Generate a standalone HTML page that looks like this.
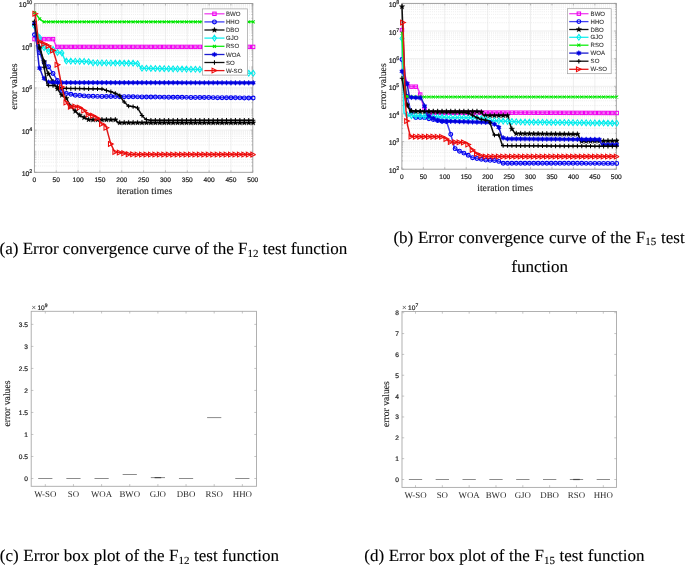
<!DOCTYPE html><html><head><meta charset="utf-8"><style>html,body{margin:0;padding:0;background:#fff;width:685px;height:565px;overflow:hidden}svg{display:block;will-change:transform;text-rendering:geometricPrecision}</style></head><body><svg width="685" height="565" viewBox="0 0 685 565"><defs><clipPath id="ac"><rect x="31.4" y="0.5" width="224.4" height="171.8"/></clipPath><clipPath id="bc"><rect x="398.9" y="0.3999999999999999" width="220.39999999999998" height="168.79999999999998"/></clipPath></defs><clipPath id="a"><rect x="34.4" y="3.5" width="218.4" height="168.8"/></clipPath><g stroke="#d4d4d4" stroke-width="0.6" stroke-dasharray="0.6 1.3"><path d="M34.4 165.95H252.8"/><path d="M34.4 162.23H252.8"/><path d="M34.4 159.6H252.8"/><path d="M34.4 157.55H252.8"/><path d="M34.4 155.88H252.8"/><path d="M34.4 154.47H252.8"/><path d="M34.4 153.24H252.8"/><path d="M34.4 152.17H252.8"/><path d="M34.4 151.2H252.8"/><path d="M34.4 144.85H252.8"/><path d="M34.4 141.13H252.8"/><path d="M34.4 138.5H252.8"/><path d="M34.4 136.45H252.8"/><path d="M34.4 134.78H252.8"/><path d="M34.4 133.37H252.8"/><path d="M34.4 132.14H252.8"/><path d="M34.4 131.07H252.8"/><path d="M34.4 123.75H252.8"/><path d="M34.4 120.03H252.8"/><path d="M34.4 117.4H252.8"/><path d="M34.4 115.35H252.8"/><path d="M34.4 113.68H252.8"/><path d="M34.4 112.27H252.8"/><path d="M34.4 111.04H252.8"/><path d="M34.4 109.97H252.8"/><path d="M34.4 109H252.8"/><path d="M34.4 102.65H252.8"/><path d="M34.4 98.93H252.8"/><path d="M34.4 96.3H252.8"/><path d="M34.4 94.25H252.8"/><path d="M34.4 92.58H252.8"/><path d="M34.4 91.17H252.8"/><path d="M34.4 89.94H252.8"/><path d="M34.4 88.87H252.8"/><path d="M34.4 81.55H252.8"/><path d="M34.4 77.83H252.8"/><path d="M34.4 75.2H252.8"/><path d="M34.4 73.15H252.8"/><path d="M34.4 71.48H252.8"/><path d="M34.4 70.07H252.8"/><path d="M34.4 68.84H252.8"/><path d="M34.4 67.77H252.8"/><path d="M34.4 66.8H252.8"/><path d="M34.4 60.45H252.8"/><path d="M34.4 56.73H252.8"/><path d="M34.4 54.1H252.8"/><path d="M34.4 52.05H252.8"/><path d="M34.4 50.38H252.8"/><path d="M34.4 48.97H252.8"/><path d="M34.4 47.74H252.8"/><path d="M34.4 46.67H252.8"/><path d="M34.4 39.35H252.8"/><path d="M34.4 35.63H252.8"/><path d="M34.4 33H252.8"/><path d="M34.4 30.95H252.8"/><path d="M34.4 29.28H252.8"/><path d="M34.4 27.87H252.8"/><path d="M34.4 26.64H252.8"/><path d="M34.4 25.57H252.8"/><path d="M34.4 24.6H252.8"/><path d="M34.4 18.25H252.8"/><path d="M34.4 14.53H252.8"/><path d="M34.4 11.9H252.8"/><path d="M34.4 9.85H252.8"/><path d="M34.4 8.18H252.8"/><path d="M34.4 6.77H252.8"/><path d="M34.4 5.54H252.8"/><path d="M34.4 4.47H252.8"/></g><g stroke="#e4e4e4" stroke-width="0.6"><path d="M56.24 3.5V172.3"/><path d="M78.08 3.5V172.3"/><path d="M99.92 3.5V172.3"/><path d="M121.76 3.5V172.3"/><path d="M143.6 3.5V172.3"/><path d="M165.44 3.5V172.3"/><path d="M187.28 3.5V172.3"/><path d="M209.12 3.5V172.3"/><path d="M230.96 3.5V172.3"/><path d="M34.4 130.1H252.8"/><path d="M34.4 87.9H252.8"/><path d="M34.4 45.7H252.8"/></g><g stroke="#9a9a9a" stroke-width="0.6"><path d="M34.4 172.3v-2M34.4 3.5v2"/><path d="M56.24 172.3v-2M56.24 3.5v2"/><path d="M78.08 172.3v-2M78.08 3.5v2"/><path d="M99.92 172.3v-2M99.92 3.5v2"/><path d="M121.76 172.3v-2M121.76 3.5v2"/><path d="M143.6 172.3v-2M143.6 3.5v2"/><path d="M165.44 172.3v-2M165.44 3.5v2"/><path d="M187.28 172.3v-2M187.28 3.5v2"/><path d="M209.12 172.3v-2M209.12 3.5v2"/><path d="M230.96 172.3v-2M230.96 3.5v2"/><path d="M252.8 172.3v-2M252.8 3.5v2"/><path d="M34.4 172.3h2.2M252.8 172.3h-2.2"/><path d="M34.4 165.95h1.2M252.8 165.95h-1.2"/><path d="M34.4 162.23h1.2M252.8 162.23h-1.2"/><path d="M34.4 159.6h1.2M252.8 159.6h-1.2"/><path d="M34.4 157.55h1.2M252.8 157.55h-1.2"/><path d="M34.4 155.88h1.2M252.8 155.88h-1.2"/><path d="M34.4 154.47h1.2M252.8 154.47h-1.2"/><path d="M34.4 153.24h1.2M252.8 153.24h-1.2"/><path d="M34.4 152.17h1.2M252.8 152.17h-1.2"/><path d="M34.4 151.2h1.2M252.8 151.2h-1.2"/><path d="M34.4 144.85h1.2M252.8 144.85h-1.2"/><path d="M34.4 141.13h1.2M252.8 141.13h-1.2"/><path d="M34.4 138.5h1.2M252.8 138.5h-1.2"/><path d="M34.4 136.45h1.2M252.8 136.45h-1.2"/><path d="M34.4 134.78h1.2M252.8 134.78h-1.2"/><path d="M34.4 133.37h1.2M252.8 133.37h-1.2"/><path d="M34.4 132.14h1.2M252.8 132.14h-1.2"/><path d="M34.4 131.07h1.2M252.8 131.07h-1.2"/><path d="M34.4 130.1h2.2M252.8 130.1h-2.2"/><path d="M34.4 123.75h1.2M252.8 123.75h-1.2"/><path d="M34.4 120.03h1.2M252.8 120.03h-1.2"/><path d="M34.4 117.4h1.2M252.8 117.4h-1.2"/><path d="M34.4 115.35h1.2M252.8 115.35h-1.2"/><path d="M34.4 113.68h1.2M252.8 113.68h-1.2"/><path d="M34.4 112.27h1.2M252.8 112.27h-1.2"/><path d="M34.4 111.04h1.2M252.8 111.04h-1.2"/><path d="M34.4 109.97h1.2M252.8 109.97h-1.2"/><path d="M34.4 109h1.2M252.8 109h-1.2"/><path d="M34.4 102.65h1.2M252.8 102.65h-1.2"/><path d="M34.4 98.93h1.2M252.8 98.93h-1.2"/><path d="M34.4 96.3h1.2M252.8 96.3h-1.2"/><path d="M34.4 94.25h1.2M252.8 94.25h-1.2"/><path d="M34.4 92.58h1.2M252.8 92.58h-1.2"/><path d="M34.4 91.17h1.2M252.8 91.17h-1.2"/><path d="M34.4 89.94h1.2M252.8 89.94h-1.2"/><path d="M34.4 88.87h1.2M252.8 88.87h-1.2"/><path d="M34.4 87.9h2.2M252.8 87.9h-2.2"/><path d="M34.4 81.55h1.2M252.8 81.55h-1.2"/><path d="M34.4 77.83h1.2M252.8 77.83h-1.2"/><path d="M34.4 75.2h1.2M252.8 75.2h-1.2"/><path d="M34.4 73.15h1.2M252.8 73.15h-1.2"/><path d="M34.4 71.48h1.2M252.8 71.48h-1.2"/><path d="M34.4 70.07h1.2M252.8 70.07h-1.2"/><path d="M34.4 68.84h1.2M252.8 68.84h-1.2"/><path d="M34.4 67.77h1.2M252.8 67.77h-1.2"/><path d="M34.4 66.8h1.2M252.8 66.8h-1.2"/><path d="M34.4 60.45h1.2M252.8 60.45h-1.2"/><path d="M34.4 56.73h1.2M252.8 56.73h-1.2"/><path d="M34.4 54.1h1.2M252.8 54.1h-1.2"/><path d="M34.4 52.05h1.2M252.8 52.05h-1.2"/><path d="M34.4 50.38h1.2M252.8 50.38h-1.2"/><path d="M34.4 48.97h1.2M252.8 48.97h-1.2"/><path d="M34.4 47.74h1.2M252.8 47.74h-1.2"/><path d="M34.4 46.67h1.2M252.8 46.67h-1.2"/><path d="M34.4 45.7h2.2M252.8 45.7h-2.2"/><path d="M34.4 39.35h1.2M252.8 39.35h-1.2"/><path d="M34.4 35.63h1.2M252.8 35.63h-1.2"/><path d="M34.4 33h1.2M252.8 33h-1.2"/><path d="M34.4 30.95h1.2M252.8 30.95h-1.2"/><path d="M34.4 29.28h1.2M252.8 29.28h-1.2"/><path d="M34.4 27.87h1.2M252.8 27.87h-1.2"/><path d="M34.4 26.64h1.2M252.8 26.64h-1.2"/><path d="M34.4 25.57h1.2M252.8 25.57h-1.2"/><path d="M34.4 24.6h1.2M252.8 24.6h-1.2"/><path d="M34.4 18.25h1.2M252.8 18.25h-1.2"/><path d="M34.4 14.53h1.2M252.8 14.53h-1.2"/><path d="M34.4 11.9h1.2M252.8 11.9h-1.2"/><path d="M34.4 9.85h1.2M252.8 9.85h-1.2"/><path d="M34.4 8.18h1.2M252.8 8.18h-1.2"/><path d="M34.4 6.77h1.2M252.8 6.77h-1.2"/><path d="M34.4 5.54h1.2M252.8 5.54h-1.2"/><path d="M34.4 4.47h1.2M252.8 4.47h-1.2"/><path d="M34.4 3.5h2.2M252.8 3.5h-2.2"/></g><rect x="34.4" y="3.5" width="218.4" height="168.8" fill="none" stroke="#9a9a9a" stroke-width="0.9"/><g clip-path="url(#ac)"><path d="M34.5 39.1L53.2 39.1L56.5 46.9L252.8 46.9" fill="none" stroke="#f040f0" stroke-width="1.5" stroke-linejoin="round"/><rect x="32.8" y="37.4" width="3.4" height="3.4" fill="none" stroke="#f000f0" stroke-width="1.05"/><rect x="37.99" y="37.4" width="3.4" height="3.4" fill="none" stroke="#f000f0" stroke-width="1.05"/><rect x="42.43" y="37.4" width="3.4" height="3.4" fill="none" stroke="#f000f0" stroke-width="1.05"/><rect x="46.88" y="37.4" width="3.4" height="3.4" fill="none" stroke="#f000f0" stroke-width="1.05"/><rect x="51.33" y="37.4" width="3.4" height="3.4" fill="none" stroke="#f000f0" stroke-width="1.05"/><rect x="55.78" y="45.2" width="3.4" height="3.4" fill="none" stroke="#f000f0" stroke-width="1.05"/><rect x="60.23" y="45.2" width="3.4" height="3.4" fill="none" stroke="#f000f0" stroke-width="1.05"/><rect x="64.67" y="45.2" width="3.4" height="3.4" fill="none" stroke="#f000f0" stroke-width="1.05"/><rect x="69.12" y="45.2" width="3.4" height="3.4" fill="none" stroke="#f000f0" stroke-width="1.05"/><rect x="73.57" y="45.2" width="3.4" height="3.4" fill="none" stroke="#f000f0" stroke-width="1.05"/><rect x="78.02" y="45.2" width="3.4" height="3.4" fill="none" stroke="#f000f0" stroke-width="1.05"/><rect x="82.47" y="45.2" width="3.4" height="3.4" fill="none" stroke="#f000f0" stroke-width="1.05"/><rect x="86.92" y="45.2" width="3.4" height="3.4" fill="none" stroke="#f000f0" stroke-width="1.05"/><rect x="91.36" y="45.2" width="3.4" height="3.4" fill="none" stroke="#f000f0" stroke-width="1.05"/><rect x="95.81" y="45.2" width="3.4" height="3.4" fill="none" stroke="#f000f0" stroke-width="1.05"/><rect x="100.26" y="45.2" width="3.4" height="3.4" fill="none" stroke="#f000f0" stroke-width="1.05"/><rect x="104.71" y="45.2" width="3.4" height="3.4" fill="none" stroke="#f000f0" stroke-width="1.05"/><rect x="109.16" y="45.2" width="3.4" height="3.4" fill="none" stroke="#f000f0" stroke-width="1.05"/><rect x="113.6" y="45.2" width="3.4" height="3.4" fill="none" stroke="#f000f0" stroke-width="1.05"/><rect x="118.05" y="45.2" width="3.4" height="3.4" fill="none" stroke="#f000f0" stroke-width="1.05"/><rect x="122.5" y="45.2" width="3.4" height="3.4" fill="none" stroke="#f000f0" stroke-width="1.05"/><rect x="126.95" y="45.2" width="3.4" height="3.4" fill="none" stroke="#f000f0" stroke-width="1.05"/><rect x="131.4" y="45.2" width="3.4" height="3.4" fill="none" stroke="#f000f0" stroke-width="1.05"/><rect x="135.85" y="45.2" width="3.4" height="3.4" fill="none" stroke="#f000f0" stroke-width="1.05"/><rect x="140.29" y="45.2" width="3.4" height="3.4" fill="none" stroke="#f000f0" stroke-width="1.05"/><rect x="144.74" y="45.2" width="3.4" height="3.4" fill="none" stroke="#f000f0" stroke-width="1.05"/><rect x="149.19" y="45.2" width="3.4" height="3.4" fill="none" stroke="#f000f0" stroke-width="1.05"/><rect x="153.64" y="45.2" width="3.4" height="3.4" fill="none" stroke="#f000f0" stroke-width="1.05"/><rect x="158.09" y="45.2" width="3.4" height="3.4" fill="none" stroke="#f000f0" stroke-width="1.05"/><rect x="162.54" y="45.2" width="3.4" height="3.4" fill="none" stroke="#f000f0" stroke-width="1.05"/><rect x="166.98" y="45.2" width="3.4" height="3.4" fill="none" stroke="#f000f0" stroke-width="1.05"/><rect x="171.43" y="45.2" width="3.4" height="3.4" fill="none" stroke="#f000f0" stroke-width="1.05"/><rect x="175.88" y="45.2" width="3.4" height="3.4" fill="none" stroke="#f000f0" stroke-width="1.05"/><rect x="180.33" y="45.2" width="3.4" height="3.4" fill="none" stroke="#f000f0" stroke-width="1.05"/><rect x="184.78" y="45.2" width="3.4" height="3.4" fill="none" stroke="#f000f0" stroke-width="1.05"/><rect x="189.22" y="45.2" width="3.4" height="3.4" fill="none" stroke="#f000f0" stroke-width="1.05"/><rect x="193.67" y="45.2" width="3.4" height="3.4" fill="none" stroke="#f000f0" stroke-width="1.05"/><rect x="198.12" y="45.2" width="3.4" height="3.4" fill="none" stroke="#f000f0" stroke-width="1.05"/><rect x="202.57" y="45.2" width="3.4" height="3.4" fill="none" stroke="#f000f0" stroke-width="1.05"/><rect x="207.02" y="45.2" width="3.4" height="3.4" fill="none" stroke="#f000f0" stroke-width="1.05"/><rect x="211.47" y="45.2" width="3.4" height="3.4" fill="none" stroke="#f000f0" stroke-width="1.05"/><rect x="215.91" y="45.2" width="3.4" height="3.4" fill="none" stroke="#f000f0" stroke-width="1.05"/><rect x="220.36" y="45.2" width="3.4" height="3.4" fill="none" stroke="#f000f0" stroke-width="1.05"/><rect x="224.81" y="45.2" width="3.4" height="3.4" fill="none" stroke="#f000f0" stroke-width="1.05"/><rect x="229.26" y="45.2" width="3.4" height="3.4" fill="none" stroke="#f000f0" stroke-width="1.05"/><rect x="233.71" y="45.2" width="3.4" height="3.4" fill="none" stroke="#f000f0" stroke-width="1.05"/><rect x="238.16" y="45.2" width="3.4" height="3.4" fill="none" stroke="#f000f0" stroke-width="1.05"/><rect x="242.6" y="45.2" width="3.4" height="3.4" fill="none" stroke="#f000f0" stroke-width="1.05"/><rect x="247.05" y="45.2" width="3.4" height="3.4" fill="none" stroke="#f000f0" stroke-width="1.05"/><rect x="251.5" y="45.2" width="3.4" height="3.4" fill="none" stroke="#f000f0" stroke-width="1.05"/></g><g clip-path="url(#ac)"><path d="M34.5 34.7L38.8 50L42.5 61L48.4 66.5L53.3 73.8L57.5 80.5L62.1 91.5L66 93.5L71 94.3L76 95.3L90 96.3L150 97L252.8 98" fill="none" stroke="#4040f4" stroke-width="1.5" stroke-linejoin="round"/><circle cx="34.5" cy="34.7" r="1.9" fill="none" stroke="#0000f0" stroke-width="1.15"/><circle cx="39.69" cy="52.63" r="1.9" fill="none" stroke="#0000f0" stroke-width="1.15"/><circle cx="44.13" cy="62.52" r="1.9" fill="none" stroke="#0000f0" stroke-width="1.15"/><circle cx="48.58" cy="66.77" r="1.9" fill="none" stroke="#0000f0" stroke-width="1.15"/><circle cx="53.03" cy="73.4" r="1.9" fill="none" stroke="#0000f0" stroke-width="1.15"/><circle cx="57.48" cy="80.46" r="1.9" fill="none" stroke="#0000f0" stroke-width="1.15"/><circle cx="61.93" cy="91.08" r="1.9" fill="none" stroke="#0000f0" stroke-width="1.15"/><circle cx="66.37" cy="93.56" r="1.9" fill="none" stroke="#0000f0" stroke-width="1.15"/><circle cx="70.82" cy="94.27" r="1.9" fill="none" stroke="#0000f0" stroke-width="1.15"/><circle cx="75.27" cy="95.15" r="1.9" fill="none" stroke="#0000f0" stroke-width="1.15"/><circle cx="79.72" cy="95.57" r="1.9" fill="none" stroke="#0000f0" stroke-width="1.15"/><circle cx="84.17" cy="95.88" r="1.9" fill="none" stroke="#0000f0" stroke-width="1.15"/><circle cx="88.62" cy="96.2" r="1.9" fill="none" stroke="#0000f0" stroke-width="1.15"/><circle cx="93.06" cy="96.34" r="1.9" fill="none" stroke="#0000f0" stroke-width="1.15"/><circle cx="97.51" cy="96.39" r="1.9" fill="none" stroke="#0000f0" stroke-width="1.15"/><circle cx="101.96" cy="96.44" r="1.9" fill="none" stroke="#0000f0" stroke-width="1.15"/><circle cx="106.41" cy="96.49" r="1.9" fill="none" stroke="#0000f0" stroke-width="1.15"/><circle cx="110.86" cy="96.54" r="1.9" fill="none" stroke="#0000f0" stroke-width="1.15"/><circle cx="115.3" cy="96.6" r="1.9" fill="none" stroke="#0000f0" stroke-width="1.15"/><circle cx="119.75" cy="96.65" r="1.9" fill="none" stroke="#0000f0" stroke-width="1.15"/><circle cx="124.2" cy="96.7" r="1.9" fill="none" stroke="#0000f0" stroke-width="1.15"/><circle cx="128.65" cy="96.75" r="1.9" fill="none" stroke="#0000f0" stroke-width="1.15"/><circle cx="133.1" cy="96.8" r="1.9" fill="none" stroke="#0000f0" stroke-width="1.15"/><circle cx="137.55" cy="96.85" r="1.9" fill="none" stroke="#0000f0" stroke-width="1.15"/><circle cx="141.99" cy="96.91" r="1.9" fill="none" stroke="#0000f0" stroke-width="1.15"/><circle cx="146.44" cy="96.96" r="1.9" fill="none" stroke="#0000f0" stroke-width="1.15"/><circle cx="150.89" cy="97.01" r="1.9" fill="none" stroke="#0000f0" stroke-width="1.15"/><circle cx="155.34" cy="97.05" r="1.9" fill="none" stroke="#0000f0" stroke-width="1.15"/><circle cx="159.79" cy="97.1" r="1.9" fill="none" stroke="#0000f0" stroke-width="1.15"/><circle cx="164.24" cy="97.14" r="1.9" fill="none" stroke="#0000f0" stroke-width="1.15"/><circle cx="168.68" cy="97.18" r="1.9" fill="none" stroke="#0000f0" stroke-width="1.15"/><circle cx="173.13" cy="97.23" r="1.9" fill="none" stroke="#0000f0" stroke-width="1.15"/><circle cx="177.58" cy="97.27" r="1.9" fill="none" stroke="#0000f0" stroke-width="1.15"/><circle cx="182.03" cy="97.31" r="1.9" fill="none" stroke="#0000f0" stroke-width="1.15"/><circle cx="186.48" cy="97.35" r="1.9" fill="none" stroke="#0000f0" stroke-width="1.15"/><circle cx="190.92" cy="97.4" r="1.9" fill="none" stroke="#0000f0" stroke-width="1.15"/><circle cx="195.37" cy="97.44" r="1.9" fill="none" stroke="#0000f0" stroke-width="1.15"/><circle cx="199.82" cy="97.48" r="1.9" fill="none" stroke="#0000f0" stroke-width="1.15"/><circle cx="204.27" cy="97.53" r="1.9" fill="none" stroke="#0000f0" stroke-width="1.15"/><circle cx="208.72" cy="97.57" r="1.9" fill="none" stroke="#0000f0" stroke-width="1.15"/><circle cx="213.17" cy="97.61" r="1.9" fill="none" stroke="#0000f0" stroke-width="1.15"/><circle cx="217.61" cy="97.66" r="1.9" fill="none" stroke="#0000f0" stroke-width="1.15"/><circle cx="222.06" cy="97.7" r="1.9" fill="none" stroke="#0000f0" stroke-width="1.15"/><circle cx="226.51" cy="97.74" r="1.9" fill="none" stroke="#0000f0" stroke-width="1.15"/><circle cx="230.96" cy="97.79" r="1.9" fill="none" stroke="#0000f0" stroke-width="1.15"/><circle cx="235.41" cy="97.83" r="1.9" fill="none" stroke="#0000f0" stroke-width="1.15"/><circle cx="239.86" cy="97.87" r="1.9" fill="none" stroke="#0000f0" stroke-width="1.15"/><circle cx="244.3" cy="97.92" r="1.9" fill="none" stroke="#0000f0" stroke-width="1.15"/><circle cx="248.75" cy="97.96" r="1.9" fill="none" stroke="#0000f0" stroke-width="1.15"/><circle cx="253.2" cy="98" r="1.9" fill="none" stroke="#0000f0" stroke-width="1.15"/></g><g clip-path="url(#ac)"><path d="M34.5 22L38.6 44L42.6 57L47.5 72L52 80L56.5 87.2L61.1 94.7L65.9 97.5L70.7 106.3L75.5 111.4L79.9 115.4L84.2 117.5L89 119.8L116.1 119.8L117.5 122.7L252.8 122.8" fill="none" stroke="#111111" stroke-width="1.5" stroke-linejoin="round"/><path d="M34.5 19.2L35.19 21.05L37.16 21.13L35.62 22.36L36.15 24.27L34.5 23.18L32.85 24.27L33.38 22.36L31.84 21.13L33.81 21.05Z" fill="#000000" stroke="#000000" stroke-width="0.4"/><path d="M39.69 44.73L40.38 46.57L42.35 46.66L40.8 47.89L41.33 49.79L39.69 48.7L38.04 49.79L38.57 47.89L37.02 46.66L38.99 46.57Z" fill="#000000" stroke="#000000" stroke-width="0.4"/><path d="M44.13 58.89L44.82 60.74L46.8 60.83L45.25 62.06L45.78 63.96L44.13 62.87L42.49 63.96L43.01 62.06L41.47 60.83L43.44 60.74Z" fill="#000000" stroke="#000000" stroke-width="0.4"/><path d="M48.58 71.12L49.27 72.97L51.24 73.06L49.7 74.29L50.23 76.19L48.58 75.1L46.94 76.19L47.46 74.29L45.92 73.06L47.89 72.97Z" fill="#000000" stroke="#000000" stroke-width="0.4"/><path d="M53.03 78.85L53.72 80.7L55.69 80.78L54.15 82.01L54.68 83.91L53.03 82.82L51.38 83.91L51.91 82.01L50.37 80.78L52.34 80.7Z" fill="#000000" stroke="#000000" stroke-width="0.4"/><path d="M57.48 85.99L58.17 87.84L60.14 87.93L58.6 89.16L59.12 91.06L57.48 89.97L55.83 91.06L56.36 89.16L54.81 87.93L56.79 87.84Z" fill="#000000" stroke="#000000" stroke-width="0.4"/><path d="M61.93 92.38L62.62 94.23L64.59 94.32L63.04 95.55L63.57 97.45L61.93 96.36L60.28 97.45L60.81 95.55L59.26 94.32L61.23 94.23Z" fill="#000000" stroke="#000000" stroke-width="0.4"/><path d="M66.37 95.57L67.07 97.42L69.04 97.5L67.49 98.73L68.02 100.63L66.37 99.55L64.73 100.63L65.26 98.73L63.71 97.5L65.68 97.42Z" fill="#000000" stroke="#000000" stroke-width="0.4"/><path d="M70.82 103.63L71.51 105.48L73.49 105.57L71.94 106.79L72.47 108.7L70.82 107.61L69.18 108.7L69.7 106.79L68.16 105.57L70.13 105.48Z" fill="#000000" stroke="#000000" stroke-width="0.4"/><path d="M75.27 108.36L75.96 110.21L77.93 110.29L76.39 111.52L76.92 113.42L75.27 112.33L73.63 113.42L74.15 111.52L72.61 110.29L74.58 110.21Z" fill="#000000" stroke="#000000" stroke-width="0.4"/><path d="M79.72 112.44L80.41 114.28L82.38 114.37L80.84 115.6L81.36 117.5L79.72 116.41L78.07 117.5L78.6 115.6L77.06 114.37L79.03 114.28Z" fill="#000000" stroke="#000000" stroke-width="0.4"/><path d="M84.17 114.68L84.86 116.53L86.83 116.62L85.29 117.85L85.81 119.75L84.17 118.66L82.52 119.75L83.05 117.85L81.5 116.62L83.48 116.53Z" fill="#000000" stroke="#000000" stroke-width="0.4"/><path d="M88.62 116.82L89.31 118.66L91.28 118.75L89.73 119.98L90.26 121.88L88.62 120.79L86.97 121.88L87.5 119.98L85.95 118.75L87.92 118.66Z" fill="#000000" stroke="#000000" stroke-width="0.4"/><path d="M93.06 117L93.76 118.85L95.73 118.93L94.18 120.16L94.71 122.07L93.06 120.98L91.42 122.07L91.95 120.16L90.4 118.93L92.37 118.85Z" fill="#000000" stroke="#000000" stroke-width="0.4"/><path d="M97.51 117L98.2 118.85L100.17 118.93L98.63 120.16L99.16 122.07L97.51 120.98L95.87 122.07L96.39 120.16L94.85 118.93L96.82 118.85Z" fill="#000000" stroke="#000000" stroke-width="0.4"/><path d="M101.96 117L102.65 118.85L104.62 118.93L103.08 120.16L103.61 122.07L101.96 120.98L100.31 122.07L100.84 120.16L99.3 118.93L101.27 118.85Z" fill="#000000" stroke="#000000" stroke-width="0.4"/><path d="M106.41 117L107.1 118.85L109.07 118.93L107.53 120.16L108.05 122.07L106.41 120.98L104.76 122.07L105.29 120.16L103.75 118.93L105.72 118.85Z" fill="#000000" stroke="#000000" stroke-width="0.4"/><path d="M110.86 117L111.55 118.85L113.52 118.93L111.98 120.16L112.5 122.07L110.86 120.98L109.21 122.07L109.74 120.16L108.19 118.93L110.17 118.85Z" fill="#000000" stroke="#000000" stroke-width="0.4"/><path d="M115.3 117L116 118.85L117.97 118.93L116.42 120.16L116.95 122.07L115.3 120.98L113.66 122.07L114.19 120.16L112.64 118.93L114.61 118.85Z" fill="#000000" stroke="#000000" stroke-width="0.4"/><path d="M119.75 119.9L120.44 121.75L122.42 121.84L120.87 123.07L121.4 124.97L119.75 123.88L118.11 124.97L118.63 123.07L117.09 121.84L119.06 121.75Z" fill="#000000" stroke="#000000" stroke-width="0.4"/><path d="M124.2 119.9L124.89 121.75L126.86 121.84L125.32 123.07L125.85 124.97L124.2 123.88L122.56 124.97L123.08 123.07L121.54 121.84L123.51 121.75Z" fill="#000000" stroke="#000000" stroke-width="0.4"/><path d="M128.65 119.91L129.34 121.76L131.31 121.84L129.77 123.07L130.3 124.97L128.65 123.88L127 124.97L127.53 123.07L125.99 121.84L127.96 121.76Z" fill="#000000" stroke="#000000" stroke-width="0.4"/><path d="M133.1 119.91L133.79 121.76L135.76 121.85L134.22 123.07L134.74 124.98L133.1 123.89L131.45 124.98L131.98 123.07L130.43 121.85L132.41 121.76Z" fill="#000000" stroke="#000000" stroke-width="0.4"/><path d="M137.55 119.91L138.24 121.76L140.21 121.85L138.66 123.08L139.19 124.98L137.55 123.89L135.9 124.98L136.43 123.08L134.88 121.85L136.85 121.76Z" fill="#000000" stroke="#000000" stroke-width="0.4"/><path d="M141.99 119.92L142.69 121.77L144.66 121.85L143.11 123.08L143.64 124.98L141.99 123.89L140.35 124.98L140.88 123.08L139.33 121.85L141.3 121.77Z" fill="#000000" stroke="#000000" stroke-width="0.4"/><path d="M146.44 119.92L147.13 121.77L149.11 121.86L147.56 123.08L148.09 124.99L146.44 123.9L144.8 124.99L145.32 123.08L143.78 121.86L145.75 121.77Z" fill="#000000" stroke="#000000" stroke-width="0.4"/><path d="M150.89 119.92L151.58 121.77L153.55 121.86L152.01 123.09L152.54 124.99L150.89 123.9L149.24 124.99L149.77 123.09L148.23 121.86L150.2 121.77Z" fill="#000000" stroke="#000000" stroke-width="0.4"/><path d="M155.34 119.93L156.03 121.78L158 121.86L156.46 123.09L156.98 124.99L155.34 123.9L153.69 124.99L154.22 123.09L152.68 121.86L154.65 121.78Z" fill="#000000" stroke="#000000" stroke-width="0.4"/><path d="M159.79 119.93L160.48 121.78L162.45 121.87L160.91 123.09L161.43 125L159.79 123.91L158.14 125L158.67 123.09L157.12 121.87L159.1 121.78Z" fill="#000000" stroke="#000000" stroke-width="0.4"/><path d="M164.24 119.93L164.93 121.78L166.9 121.87L165.35 123.1L165.88 125L164.24 123.91L162.59 125L163.12 123.1L161.57 121.87L163.54 121.78Z" fill="#000000" stroke="#000000" stroke-width="0.4"/><path d="M168.68 119.94L169.37 121.79L171.35 121.87L169.8 123.1L170.33 125L168.68 123.91L167.04 125L167.57 123.1L166.02 121.87L167.99 121.79Z" fill="#000000" stroke="#000000" stroke-width="0.4"/><path d="M173.13 119.94L173.82 121.79L175.79 121.88L174.25 123.1L174.78 125.01L173.13 123.92L171.49 125.01L172.01 123.1L170.47 121.88L172.44 121.79Z" fill="#000000" stroke="#000000" stroke-width="0.4"/><path d="M177.58 119.94L178.27 121.79L180.24 121.88L178.7 123.11L179.23 125.01L177.58 123.92L175.93 125.01L176.46 123.11L174.92 121.88L176.89 121.79Z" fill="#000000" stroke="#000000" stroke-width="0.4"/><path d="M182.03 119.95L182.72 121.8L184.69 121.88L183.15 123.11L183.67 125.01L182.03 123.92L180.38 125.01L180.91 123.11L179.37 121.88L181.34 121.8Z" fill="#000000" stroke="#000000" stroke-width="0.4"/><path d="M186.48 119.95L187.17 121.8L189.14 121.89L187.6 123.11L188.12 125.02L186.48 123.93L184.83 125.02L185.36 123.11L183.81 121.89L185.79 121.8Z" fill="#000000" stroke="#000000" stroke-width="0.4"/><path d="M190.92 119.95L191.62 121.8L193.59 121.89L192.04 123.12L192.57 125.02L190.92 123.93L189.28 125.02L189.81 123.12L188.26 121.89L190.23 121.8Z" fill="#000000" stroke="#000000" stroke-width="0.4"/><path d="M195.37 119.96L196.06 121.81L198.04 121.89L196.49 123.12L197.02 125.02L195.37 123.93L193.73 125.02L194.25 123.12L192.71 121.89L194.68 121.81Z" fill="#000000" stroke="#000000" stroke-width="0.4"/><path d="M199.82 119.96L200.51 121.81L202.48 121.9L200.94 123.12L201.47 125.03L199.82 123.94L198.18 125.03L198.7 123.12L197.16 121.9L199.13 121.81Z" fill="#000000" stroke="#000000" stroke-width="0.4"/><path d="M204.27 119.96L204.96 121.81L206.93 121.9L205.39 123.13L205.92 125.03L204.27 123.94L202.62 125.03L203.15 123.13L201.61 121.9L203.58 121.81Z" fill="#000000" stroke="#000000" stroke-width="0.4"/><path d="M208.72 119.97L209.41 121.82L211.38 121.9L209.84 123.13L210.36 125.03L208.72 123.94L207.07 125.03L207.6 123.13L206.05 121.9L208.03 121.82Z" fill="#000000" stroke="#000000" stroke-width="0.4"/><path d="M213.17 119.97L213.86 121.82L215.83 121.91L214.28 123.13L214.81 125.04L213.17 123.95L211.52 125.04L212.05 123.13L210.5 121.91L212.47 121.82Z" fill="#000000" stroke="#000000" stroke-width="0.4"/><path d="M217.61 119.97L218.31 121.82L220.28 121.91L218.73 123.14L219.26 125.04L217.61 123.95L215.97 125.04L216.5 123.14L214.95 121.91L216.92 121.82Z" fill="#000000" stroke="#000000" stroke-width="0.4"/><path d="M222.06 119.98L222.75 121.83L224.73 121.91L223.18 123.14L223.71 125.04L222.06 123.95L220.42 125.04L220.94 123.14L219.4 121.91L221.37 121.83Z" fill="#000000" stroke="#000000" stroke-width="0.4"/><path d="M226.51 119.98L227.2 121.83L229.17 121.92L227.63 123.14L228.16 125.05L226.51 123.96L224.86 125.05L225.39 123.14L223.85 121.92L225.82 121.83Z" fill="#000000" stroke="#000000" stroke-width="0.4"/><path d="M230.96 119.98L231.65 121.83L233.62 121.92L232.08 123.15L232.6 125.05L230.96 123.96L229.31 125.05L229.84 123.15L228.3 121.92L230.27 121.83Z" fill="#000000" stroke="#000000" stroke-width="0.4"/><path d="M235.41 119.99L236.1 121.84L238.07 121.92L236.53 123.15L237.05 125.05L235.41 123.96L233.76 125.05L234.29 123.15L232.74 121.92L234.72 121.84Z" fill="#000000" stroke="#000000" stroke-width="0.4"/><path d="M239.86 119.99L240.55 121.84L242.52 121.93L240.97 123.15L241.5 125.06L239.86 123.97L238.21 125.06L238.74 123.15L237.19 121.93L239.16 121.84Z" fill="#000000" stroke="#000000" stroke-width="0.4"/><path d="M244.3 119.99L244.99 121.84L246.97 121.93L245.42 123.16L245.95 125.06L244.3 123.97L242.66 125.06L243.19 123.16L241.64 121.93L243.61 121.84Z" fill="#000000" stroke="#000000" stroke-width="0.4"/><path d="M248.75 120L249.44 121.85L251.41 121.93L249.87 123.16L250.4 125.06L248.75 123.97L247.11 125.06L247.63 123.16L246.09 121.93L248.06 121.85Z" fill="#000000" stroke="#000000" stroke-width="0.4"/><path d="M253.2 120L253.89 121.85L255.86 121.93L254.32 123.16L254.85 125.07L253.2 123.98L251.55 125.07L252.08 123.16L250.54 121.93L252.51 121.85Z" fill="#000000" stroke="#000000" stroke-width="0.4"/></g><g clip-path="url(#ac)"><path d="M34.5 26L40.2 38.8L43.9 47.5L48.5 51.4L53 49.5L57.6 52.6L61.8 52.6L65.3 61L88 61.5L91 62.8L137 63.2L141.7 68.2L200 69.4L243.5 69.6L248 73.3L252.8 73.3" fill="none" stroke="#18f0f0" stroke-width="1.5" stroke-linejoin="round"/><path d="M34.5 23.1L36.5 26L34.5 28.9L32.5 26Z" fill="none" stroke="#00ecec" stroke-width="1.05"/><path d="M39.69 34.74L41.69 37.64L39.69 40.54L37.69 37.64Z" fill="none" stroke="#00ecec" stroke-width="1.05"/><path d="M44.13 44.8L46.13 47.7L44.13 50.6L42.13 47.7Z" fill="none" stroke="#00ecec" stroke-width="1.05"/><path d="M48.58 48.47L50.58 51.37L48.58 54.27L46.58 51.37Z" fill="none" stroke="#00ecec" stroke-width="1.05"/><path d="M53.03 46.62L55.03 49.52L53.03 52.42L51.03 49.52Z" fill="none" stroke="#00ecec" stroke-width="1.05"/><path d="M57.48 49.62L59.48 52.52L57.48 55.42L55.48 52.52Z" fill="none" stroke="#00ecec" stroke-width="1.05"/><path d="M61.93 50L63.93 52.9L61.93 55.8L59.93 52.9Z" fill="none" stroke="#00ecec" stroke-width="1.05"/><path d="M66.37 58.12L68.37 61.02L66.37 63.92L64.37 61.02Z" fill="none" stroke="#00ecec" stroke-width="1.05"/><path d="M70.82 58.22L72.82 61.12L70.82 64.02L68.82 61.12Z" fill="none" stroke="#00ecec" stroke-width="1.05"/><path d="M75.27 58.32L77.27 61.22L75.27 64.12L73.27 61.22Z" fill="none" stroke="#00ecec" stroke-width="1.05"/><path d="M79.72 58.42L81.72 61.32L79.72 64.22L77.72 61.32Z" fill="none" stroke="#00ecec" stroke-width="1.05"/><path d="M84.17 58.52L86.17 61.42L84.17 64.32L82.17 61.42Z" fill="none" stroke="#00ecec" stroke-width="1.05"/><path d="M88.62 58.87L90.62 61.77L88.62 64.67L86.62 61.77Z" fill="none" stroke="#00ecec" stroke-width="1.05"/><path d="M93.06 59.92L95.06 62.82L93.06 65.72L91.06 62.82Z" fill="none" stroke="#00ecec" stroke-width="1.05"/><path d="M97.51 59.96L99.51 62.86L97.51 65.76L95.51 62.86Z" fill="none" stroke="#00ecec" stroke-width="1.05"/><path d="M101.96 60L103.96 62.9L101.96 65.8L99.96 62.9Z" fill="none" stroke="#00ecec" stroke-width="1.05"/><path d="M106.41 60.03L108.41 62.93L106.41 65.83L104.41 62.93Z" fill="none" stroke="#00ecec" stroke-width="1.05"/><path d="M110.86 60.07L112.86 62.97L110.86 65.87L108.86 62.97Z" fill="none" stroke="#00ecec" stroke-width="1.05"/><path d="M115.3 60.11L117.3 63.01L115.3 65.91L113.3 63.01Z" fill="none" stroke="#00ecec" stroke-width="1.05"/><path d="M119.75 60.15L121.75 63.05L119.75 65.95L117.75 63.05Z" fill="none" stroke="#00ecec" stroke-width="1.05"/><path d="M124.2 60.19L126.2 63.09L124.2 65.99L122.2 63.09Z" fill="none" stroke="#00ecec" stroke-width="1.05"/><path d="M128.65 60.23L130.65 63.13L128.65 66.03L126.65 63.13Z" fill="none" stroke="#00ecec" stroke-width="1.05"/><path d="M133.1 60.27L135.1 63.17L133.1 66.07L131.1 63.17Z" fill="none" stroke="#00ecec" stroke-width="1.05"/><path d="M137.55 60.88L139.55 63.78L137.55 66.68L135.55 63.78Z" fill="none" stroke="#00ecec" stroke-width="1.05"/><path d="M141.99 65.31L143.99 68.21L141.99 71.11L139.99 68.21Z" fill="none" stroke="#00ecec" stroke-width="1.05"/><path d="M146.44 65.4L148.44 68.3L146.44 71.2L144.44 68.3Z" fill="none" stroke="#00ecec" stroke-width="1.05"/><path d="M150.89 65.49L152.89 68.39L150.89 71.29L148.89 68.39Z" fill="none" stroke="#00ecec" stroke-width="1.05"/><path d="M155.34 65.58L157.34 68.48L155.34 71.38L153.34 68.48Z" fill="none" stroke="#00ecec" stroke-width="1.05"/><path d="M159.79 65.67L161.79 68.57L159.79 71.47L157.79 68.57Z" fill="none" stroke="#00ecec" stroke-width="1.05"/><path d="M164.24 65.76L166.24 68.66L164.24 71.56L162.24 68.66Z" fill="none" stroke="#00ecec" stroke-width="1.05"/><path d="M168.68 65.86L170.68 68.76L168.68 71.66L166.68 68.76Z" fill="none" stroke="#00ecec" stroke-width="1.05"/><path d="M173.13 65.95L175.13 68.85L173.13 71.75L171.13 68.85Z" fill="none" stroke="#00ecec" stroke-width="1.05"/><path d="M177.58 66.04L179.58 68.94L177.58 71.84L175.58 68.94Z" fill="none" stroke="#00ecec" stroke-width="1.05"/><path d="M182.03 66.13L184.03 69.03L182.03 71.93L180.03 69.03Z" fill="none" stroke="#00ecec" stroke-width="1.05"/><path d="M186.48 66.22L188.48 69.12L186.48 72.02L184.48 69.12Z" fill="none" stroke="#00ecec" stroke-width="1.05"/><path d="M190.92 66.31L192.92 69.21L190.92 72.11L188.92 69.21Z" fill="none" stroke="#00ecec" stroke-width="1.05"/><path d="M195.37 66.4L197.37 69.3L195.37 72.2L193.37 69.3Z" fill="none" stroke="#00ecec" stroke-width="1.05"/><path d="M199.82 66.5L201.82 69.4L199.82 72.3L197.82 69.4Z" fill="none" stroke="#00ecec" stroke-width="1.05"/><path d="M204.27 66.52L206.27 69.42L204.27 72.32L202.27 69.42Z" fill="none" stroke="#00ecec" stroke-width="1.05"/><path d="M208.72 66.54L210.72 69.44L208.72 72.34L206.72 69.44Z" fill="none" stroke="#00ecec" stroke-width="1.05"/><path d="M213.17 66.56L215.17 69.46L213.17 72.36L211.17 69.46Z" fill="none" stroke="#00ecec" stroke-width="1.05"/><path d="M217.61 66.58L219.61 69.48L217.61 72.38L215.61 69.48Z" fill="none" stroke="#00ecec" stroke-width="1.05"/><path d="M222.06 66.6L224.06 69.5L222.06 72.4L220.06 69.5Z" fill="none" stroke="#00ecec" stroke-width="1.05"/><path d="M226.51 66.62L228.51 69.52L226.51 72.42L224.51 69.52Z" fill="none" stroke="#00ecec" stroke-width="1.05"/><path d="M230.96 66.64L232.96 69.54L230.96 72.44L228.96 69.54Z" fill="none" stroke="#00ecec" stroke-width="1.05"/><path d="M235.41 66.66L237.41 69.56L235.41 72.46L233.41 69.56Z" fill="none" stroke="#00ecec" stroke-width="1.05"/><path d="M239.86 66.68L241.86 69.58L239.86 72.48L237.86 69.58Z" fill="none" stroke="#00ecec" stroke-width="1.05"/><path d="M244.3 67.36L246.3 70.26L244.3 73.16L242.3 70.26Z" fill="none" stroke="#00ecec" stroke-width="1.05"/><path d="M248.75 70.4L250.75 73.3L248.75 76.2L246.75 73.3Z" fill="none" stroke="#00ecec" stroke-width="1.05"/><path d="M253.2 70.4L255.2 73.3L253.2 76.2L251.2 73.3Z" fill="none" stroke="#00ecec" stroke-width="1.05"/></g><g clip-path="url(#ac)"><path d="M34.5 12.5L39.9 19.1L43.5 21.8L252.8 21.8" fill="none" stroke="#10ee10" stroke-width="1.5" stroke-linejoin="round"/><path d="M33 11L36 14M33 14L36 11" stroke="#00e400" stroke-width="1.05"/><path d="M38.19 17.34L41.19 20.34M38.19 20.34L41.19 17.34" stroke="#00e400" stroke-width="1.05"/><path d="M42.63 20.3L45.63 23.3M42.63 23.3L45.63 20.3" stroke="#00e400" stroke-width="1.05"/><path d="M47.08 20.3L50.08 23.3M47.08 23.3L50.08 20.3" stroke="#00e400" stroke-width="1.05"/><path d="M51.53 20.3L54.53 23.3M51.53 23.3L54.53 20.3" stroke="#00e400" stroke-width="1.05"/><path d="M55.98 20.3L58.98 23.3M55.98 23.3L58.98 20.3" stroke="#00e400" stroke-width="1.05"/><path d="M60.43 20.3L63.43 23.3M60.43 23.3L63.43 20.3" stroke="#00e400" stroke-width="1.05"/><path d="M64.87 20.3L67.87 23.3M64.87 23.3L67.87 20.3" stroke="#00e400" stroke-width="1.05"/><path d="M69.32 20.3L72.32 23.3M69.32 23.3L72.32 20.3" stroke="#00e400" stroke-width="1.05"/><path d="M73.77 20.3L76.77 23.3M73.77 23.3L76.77 20.3" stroke="#00e400" stroke-width="1.05"/><path d="M78.22 20.3L81.22 23.3M78.22 23.3L81.22 20.3" stroke="#00e400" stroke-width="1.05"/><path d="M82.67 20.3L85.67 23.3M82.67 23.3L85.67 20.3" stroke="#00e400" stroke-width="1.05"/><path d="M87.12 20.3L90.12 23.3M87.12 23.3L90.12 20.3" stroke="#00e400" stroke-width="1.05"/><path d="M91.56 20.3L94.56 23.3M91.56 23.3L94.56 20.3" stroke="#00e400" stroke-width="1.05"/><path d="M96.01 20.3L99.01 23.3M96.01 23.3L99.01 20.3" stroke="#00e400" stroke-width="1.05"/><path d="M100.46 20.3L103.46 23.3M100.46 23.3L103.46 20.3" stroke="#00e400" stroke-width="1.05"/><path d="M104.91 20.3L107.91 23.3M104.91 23.3L107.91 20.3" stroke="#00e400" stroke-width="1.05"/><path d="M109.36 20.3L112.36 23.3M109.36 23.3L112.36 20.3" stroke="#00e400" stroke-width="1.05"/><path d="M113.8 20.3L116.8 23.3M113.8 23.3L116.8 20.3" stroke="#00e400" stroke-width="1.05"/><path d="M118.25 20.3L121.25 23.3M118.25 23.3L121.25 20.3" stroke="#00e400" stroke-width="1.05"/><path d="M122.7 20.3L125.7 23.3M122.7 23.3L125.7 20.3" stroke="#00e400" stroke-width="1.05"/><path d="M127.15 20.3L130.15 23.3M127.15 23.3L130.15 20.3" stroke="#00e400" stroke-width="1.05"/><path d="M131.6 20.3L134.6 23.3M131.6 23.3L134.6 20.3" stroke="#00e400" stroke-width="1.05"/><path d="M136.05 20.3L139.05 23.3M136.05 23.3L139.05 20.3" stroke="#00e400" stroke-width="1.05"/><path d="M140.49 20.3L143.49 23.3M140.49 23.3L143.49 20.3" stroke="#00e400" stroke-width="1.05"/><path d="M144.94 20.3L147.94 23.3M144.94 23.3L147.94 20.3" stroke="#00e400" stroke-width="1.05"/><path d="M149.39 20.3L152.39 23.3M149.39 23.3L152.39 20.3" stroke="#00e400" stroke-width="1.05"/><path d="M153.84 20.3L156.84 23.3M153.84 23.3L156.84 20.3" stroke="#00e400" stroke-width="1.05"/><path d="M158.29 20.3L161.29 23.3M158.29 23.3L161.29 20.3" stroke="#00e400" stroke-width="1.05"/><path d="M162.74 20.3L165.74 23.3M162.74 23.3L165.74 20.3" stroke="#00e400" stroke-width="1.05"/><path d="M167.18 20.3L170.18 23.3M167.18 23.3L170.18 20.3" stroke="#00e400" stroke-width="1.05"/><path d="M171.63 20.3L174.63 23.3M171.63 23.3L174.63 20.3" stroke="#00e400" stroke-width="1.05"/><path d="M176.08 20.3L179.08 23.3M176.08 23.3L179.08 20.3" stroke="#00e400" stroke-width="1.05"/><path d="M180.53 20.3L183.53 23.3M180.53 23.3L183.53 20.3" stroke="#00e400" stroke-width="1.05"/><path d="M184.98 20.3L187.98 23.3M184.98 23.3L187.98 20.3" stroke="#00e400" stroke-width="1.05"/><path d="M189.42 20.3L192.42 23.3M189.42 23.3L192.42 20.3" stroke="#00e400" stroke-width="1.05"/><path d="M193.87 20.3L196.87 23.3M193.87 23.3L196.87 20.3" stroke="#00e400" stroke-width="1.05"/><path d="M198.32 20.3L201.32 23.3M198.32 23.3L201.32 20.3" stroke="#00e400" stroke-width="1.05"/><path d="M202.77 20.3L205.77 23.3M202.77 23.3L205.77 20.3" stroke="#00e400" stroke-width="1.05"/><path d="M207.22 20.3L210.22 23.3M207.22 23.3L210.22 20.3" stroke="#00e400" stroke-width="1.05"/><path d="M211.67 20.3L214.67 23.3M211.67 23.3L214.67 20.3" stroke="#00e400" stroke-width="1.05"/><path d="M216.11 20.3L219.11 23.3M216.11 23.3L219.11 20.3" stroke="#00e400" stroke-width="1.05"/><path d="M220.56 20.3L223.56 23.3M220.56 23.3L223.56 20.3" stroke="#00e400" stroke-width="1.05"/><path d="M225.01 20.3L228.01 23.3M225.01 23.3L228.01 20.3" stroke="#00e400" stroke-width="1.05"/><path d="M229.46 20.3L232.46 23.3M229.46 23.3L232.46 20.3" stroke="#00e400" stroke-width="1.05"/><path d="M233.91 20.3L236.91 23.3M233.91 23.3L236.91 20.3" stroke="#00e400" stroke-width="1.05"/><path d="M238.36 20.3L241.36 23.3M238.36 23.3L241.36 20.3" stroke="#00e400" stroke-width="1.05"/><path d="M242.8 20.3L245.8 23.3M242.8 23.3L245.8 20.3" stroke="#00e400" stroke-width="1.05"/><path d="M247.25 20.3L250.25 23.3M247.25 23.3L250.25 20.3" stroke="#00e400" stroke-width="1.05"/><path d="M251.7 20.3L254.7 23.3M251.7 23.3L254.7 20.3" stroke="#00e400" stroke-width="1.05"/></g><g clip-path="url(#ac)"><path d="M34.5 24L39.1 66.6L43.1 77.2L47.2 82L52 82.6L252.8 82.8" fill="none" stroke="#1c1cd0" stroke-width="1.5" stroke-linejoin="round"/><path d="M34.5 21.4L35.28 22.65L36.75 22.7L36.06 24L36.75 25.3L35.28 25.35L34.5 26.6L33.72 25.35L32.25 25.3L32.94 24L32.25 22.7L33.72 22.65Z" fill="#0000e0" stroke="#0000e0" stroke-width="0.4"/><path d="M39.69 65.55L40.47 66.8L41.94 66.85L41.25 68.15L41.94 69.45L40.47 69.5L39.69 70.75L38.91 69.5L37.43 69.45L38.13 68.15L37.43 66.85L38.91 66.8Z" fill="#0000e0" stroke="#0000e0" stroke-width="0.4"/><path d="M44.13 75.81L44.91 77.06L46.38 77.11L45.69 78.41L46.38 79.71L44.91 79.76L44.13 81.01L43.35 79.76L41.88 79.71L42.57 78.41L41.88 77.11L43.35 77.06Z" fill="#0000e0" stroke="#0000e0" stroke-width="0.4"/><path d="M48.58 79.57L49.36 80.82L50.83 80.87L50.14 82.17L50.83 83.47L49.36 83.52L48.58 84.77L47.8 83.52L46.33 83.47L47.02 82.17L46.33 80.87L47.8 80.82Z" fill="#0000e0" stroke="#0000e0" stroke-width="0.4"/><path d="M53.03 80L53.81 81.25L55.28 81.3L54.59 82.6L55.28 83.9L53.81 83.95L53.03 85.2L52.25 83.95L50.78 83.9L51.47 82.6L50.78 81.3L52.25 81.25Z" fill="#0000e0" stroke="#0000e0" stroke-width="0.4"/><path d="M57.48 80.01L58.26 81.25L59.73 81.31L59.04 82.61L59.73 83.91L58.26 83.96L57.48 85.21L56.7 83.96L55.23 83.91L55.92 82.61L55.23 81.31L56.7 81.25Z" fill="#0000e0" stroke="#0000e0" stroke-width="0.4"/><path d="M61.93 80.01L62.71 81.26L64.18 81.31L63.49 82.61L64.18 83.91L62.71 83.96L61.93 85.21L61.15 83.96L59.67 83.91L60.37 82.61L59.67 81.31L61.15 81.26Z" fill="#0000e0" stroke="#0000e0" stroke-width="0.4"/><path d="M66.37 80.01L67.15 81.26L68.63 81.31L67.93 82.61L68.63 83.91L67.15 83.97L66.37 85.21L65.59 83.97L64.12 83.91L64.81 82.61L64.12 81.31L65.59 81.26Z" fill="#0000e0" stroke="#0000e0" stroke-width="0.4"/><path d="M70.82 80.02L71.6 81.27L73.07 81.32L72.38 82.62L73.07 83.92L71.6 83.97L70.82 85.22L70.04 83.97L68.57 83.92L69.26 82.62L68.57 81.32L70.04 81.27Z" fill="#0000e0" stroke="#0000e0" stroke-width="0.4"/><path d="M75.27 80.02L76.05 81.27L77.52 81.32L76.83 82.62L77.52 83.92L76.05 83.97L75.27 85.22L74.49 83.97L73.02 83.92L73.71 82.62L73.02 81.32L74.49 81.27Z" fill="#0000e0" stroke="#0000e0" stroke-width="0.4"/><path d="M79.72 80.03L80.5 81.28L81.97 81.33L81.28 82.63L81.97 83.93L80.5 83.98L79.72 85.23L78.94 83.98L77.47 83.93L78.16 82.63L77.47 81.33L78.94 81.28Z" fill="#0000e0" stroke="#0000e0" stroke-width="0.4"/><path d="M84.17 80.03L84.95 81.28L86.42 81.33L85.73 82.63L86.42 83.93L84.95 83.98L84.17 85.23L83.39 83.98L81.92 83.93L82.61 82.63L81.92 81.33L83.39 81.28Z" fill="#0000e0" stroke="#0000e0" stroke-width="0.4"/><path d="M88.62 80.04L89.4 81.29L90.87 81.34L90.18 82.64L90.87 83.94L89.4 83.99L88.62 85.24L87.84 83.99L86.36 83.94L87.06 82.64L86.36 81.34L87.84 81.29Z" fill="#0000e0" stroke="#0000e0" stroke-width="0.4"/><path d="M93.06 80.04L93.84 81.29L95.32 81.34L94.62 82.64L95.32 83.94L93.84 83.99L93.06 85.24L92.28 83.99L90.81 83.94L91.5 82.64L90.81 81.34L92.28 81.29Z" fill="#0000e0" stroke="#0000e0" stroke-width="0.4"/><path d="M97.51 80.05L98.29 81.29L99.76 81.35L99.07 82.65L99.76 83.95L98.29 84L97.51 85.25L96.73 84L95.26 83.95L95.95 82.65L95.26 81.35L96.73 81.29Z" fill="#0000e0" stroke="#0000e0" stroke-width="0.4"/><path d="M101.96 80.05L102.74 81.3L104.21 81.35L103.52 82.65L104.21 83.95L102.74 84L101.96 85.25L101.18 84L99.71 83.95L100.4 82.65L99.71 81.35L101.18 81.3Z" fill="#0000e0" stroke="#0000e0" stroke-width="0.4"/><path d="M106.41 80.05L107.19 81.3L108.66 81.35L107.97 82.65L108.66 83.95L107.19 84.01L106.41 85.25L105.63 84.01L104.16 83.95L104.85 82.65L104.16 81.35L105.63 81.3Z" fill="#0000e0" stroke="#0000e0" stroke-width="0.4"/><path d="M110.86 80.06L111.64 81.31L113.11 81.36L112.42 82.66L113.11 83.96L111.64 84.01L110.86 85.26L110.08 84.01L108.61 83.96L109.3 82.66L108.61 81.36L110.08 81.31Z" fill="#0000e0" stroke="#0000e0" stroke-width="0.4"/><path d="M115.3 80.06L116.08 81.31L117.56 81.36L116.86 82.66L117.56 83.96L116.08 84.01L115.3 85.26L114.52 84.01L113.05 83.96L113.74 82.66L113.05 81.36L114.52 81.31Z" fill="#0000e0" stroke="#0000e0" stroke-width="0.4"/><path d="M119.75 80.07L120.53 81.32L122 81.37L121.31 82.67L122 83.97L120.53 84.02L119.75 85.27L118.97 84.02L117.5 83.97L118.19 82.67L117.5 81.37L118.97 81.32Z" fill="#0000e0" stroke="#0000e0" stroke-width="0.4"/><path d="M124.2 80.07L124.98 81.32L126.45 81.37L125.76 82.67L126.45 83.97L124.98 84.02L124.2 85.27L123.42 84.02L121.95 83.97L122.64 82.67L121.95 81.37L123.42 81.32Z" fill="#0000e0" stroke="#0000e0" stroke-width="0.4"/><path d="M128.65 80.08L129.43 81.33L130.9 81.38L130.21 82.68L130.9 83.98L129.43 84.03L128.65 85.28L127.87 84.03L126.4 83.98L127.09 82.68L126.4 81.38L127.87 81.33Z" fill="#0000e0" stroke="#0000e0" stroke-width="0.4"/><path d="M133.1 80.08L133.88 81.33L135.35 81.38L134.66 82.68L135.35 83.98L133.88 84.03L133.1 85.28L132.32 84.03L130.85 83.98L131.54 82.68L130.85 81.38L132.32 81.33Z" fill="#0000e0" stroke="#0000e0" stroke-width="0.4"/><path d="M137.55 80.09L138.33 81.33L139.8 81.39L139.11 82.69L139.8 83.99L138.33 84.04L137.55 85.29L136.77 84.04L135.29 83.99L135.99 82.69L135.29 81.39L136.77 81.33Z" fill="#0000e0" stroke="#0000e0" stroke-width="0.4"/><path d="M141.99 80.09L142.77 81.34L144.25 81.39L143.55 82.69L144.25 83.99L142.77 84.04L141.99 85.29L141.21 84.04L139.74 83.99L140.43 82.69L139.74 81.39L141.21 81.34Z" fill="#0000e0" stroke="#0000e0" stroke-width="0.4"/><path d="M146.44 80.09L147.22 81.34L148.69 81.39L148 82.69L148.69 83.99L147.22 84.05L146.44 85.29L145.66 84.05L144.19 83.99L144.88 82.69L144.19 81.39L145.66 81.34Z" fill="#0000e0" stroke="#0000e0" stroke-width="0.4"/><path d="M150.89 80.1L151.67 81.35L153.14 81.4L152.45 82.7L153.14 84L151.67 84.05L150.89 85.3L150.11 84.05L148.64 84L149.33 82.7L148.64 81.4L150.11 81.35Z" fill="#0000e0" stroke="#0000e0" stroke-width="0.4"/><path d="M155.34 80.1L156.12 81.35L157.59 81.4L156.9 82.7L157.59 84L156.12 84.05L155.34 85.3L154.56 84.05L153.09 84L153.78 82.7L153.09 81.4L154.56 81.35Z" fill="#0000e0" stroke="#0000e0" stroke-width="0.4"/><path d="M159.79 80.11L160.57 81.36L162.04 81.41L161.35 82.71L162.04 84.01L160.57 84.06L159.79 85.31L159.01 84.06L157.54 84.01L158.23 82.71L157.54 81.41L159.01 81.36Z" fill="#0000e0" stroke="#0000e0" stroke-width="0.4"/><path d="M164.24 80.11L165.02 81.36L166.49 81.41L165.8 82.71L166.49 84.01L165.02 84.06L164.24 85.31L163.46 84.06L161.98 84.01L162.68 82.71L161.98 81.41L163.46 81.36Z" fill="#0000e0" stroke="#0000e0" stroke-width="0.4"/><path d="M168.68 80.12L169.46 81.37L170.94 81.42L170.24 82.72L170.94 84.02L169.46 84.07L168.68 85.32L167.9 84.07L166.43 84.02L167.12 82.72L166.43 81.42L167.9 81.37Z" fill="#0000e0" stroke="#0000e0" stroke-width="0.4"/><path d="M173.13 80.12L173.91 81.37L175.38 81.42L174.69 82.72L175.38 84.02L173.91 84.07L173.13 85.32L172.35 84.07L170.88 84.02L171.57 82.72L170.88 81.42L172.35 81.37Z" fill="#0000e0" stroke="#0000e0" stroke-width="0.4"/><path d="M177.58 80.13L178.36 81.37L179.83 81.43L179.14 82.73L179.83 84.03L178.36 84.08L177.58 85.33L176.8 84.08L175.33 84.03L176.02 82.73L175.33 81.43L176.8 81.37Z" fill="#0000e0" stroke="#0000e0" stroke-width="0.4"/><path d="M182.03 80.13L182.81 81.38L184.28 81.43L183.59 82.73L184.28 84.03L182.81 84.08L182.03 85.33L181.25 84.08L179.78 84.03L180.47 82.73L179.78 81.43L181.25 81.38Z" fill="#0000e0" stroke="#0000e0" stroke-width="0.4"/><path d="M186.48 80.13L187.26 81.38L188.73 81.43L188.04 82.73L188.73 84.03L187.26 84.08L186.48 85.33L185.7 84.08L184.22 84.03L184.92 82.73L184.22 81.43L185.7 81.38Z" fill="#0000e0" stroke="#0000e0" stroke-width="0.4"/><path d="M190.92 80.14L191.7 81.39L193.18 81.44L192.48 82.74L193.18 84.04L191.7 84.09L190.92 85.34L190.14 84.09L188.67 84.04L189.36 82.74L188.67 81.44L190.14 81.39Z" fill="#0000e0" stroke="#0000e0" stroke-width="0.4"/><path d="M195.37 80.14L196.15 81.39L197.62 81.44L196.93 82.74L197.62 84.04L196.15 84.09L195.37 85.34L194.59 84.09L193.12 84.04L193.81 82.74L193.12 81.44L194.59 81.39Z" fill="#0000e0" stroke="#0000e0" stroke-width="0.4"/><path d="M199.82 80.15L200.6 81.4L202.07 81.45L201.38 82.75L202.07 84.05L200.6 84.1L199.82 85.35L199.04 84.1L197.57 84.05L198.26 82.75L197.57 81.45L199.04 81.4Z" fill="#0000e0" stroke="#0000e0" stroke-width="0.4"/><path d="M204.27 80.15L205.05 81.4L206.52 81.45L205.83 82.75L206.52 84.05L205.05 84.1L204.27 85.35L203.49 84.1L202.02 84.05L202.71 82.75L202.02 81.45L203.49 81.4Z" fill="#0000e0" stroke="#0000e0" stroke-width="0.4"/><path d="M208.72 80.16L209.5 81.41L210.97 81.46L210.28 82.76L210.97 84.06L209.5 84.11L208.72 85.36L207.94 84.11L206.47 84.06L207.16 82.76L206.47 81.46L207.94 81.41Z" fill="#0000e0" stroke="#0000e0" stroke-width="0.4"/><path d="M213.17 80.16L213.95 81.41L215.42 81.46L214.73 82.76L215.42 84.06L213.95 84.11L213.17 85.36L212.39 84.11L210.91 84.06L211.61 82.76L210.91 81.46L212.39 81.41Z" fill="#0000e0" stroke="#0000e0" stroke-width="0.4"/><path d="M217.61 80.16L218.39 81.41L219.87 81.46L219.17 82.76L219.87 84.06L218.39 84.12L217.61 85.36L216.83 84.12L215.36 84.06L216.05 82.76L215.36 81.46L216.83 81.41Z" fill="#0000e0" stroke="#0000e0" stroke-width="0.4"/><path d="M222.06 80.17L222.84 81.42L224.31 81.47L223.62 82.77L224.31 84.07L222.84 84.12L222.06 85.37L221.28 84.12L219.81 84.07L220.5 82.77L219.81 81.47L221.28 81.42Z" fill="#0000e0" stroke="#0000e0" stroke-width="0.4"/><path d="M226.51 80.17L227.29 81.42L228.76 81.47L228.07 82.77L228.76 84.07L227.29 84.12L226.51 85.37L225.73 84.12L224.26 84.07L224.95 82.77L224.26 81.47L225.73 81.42Z" fill="#0000e0" stroke="#0000e0" stroke-width="0.4"/><path d="M230.96 80.18L231.74 81.43L233.21 81.48L232.52 82.78L233.21 84.08L231.74 84.13L230.96 85.38L230.18 84.13L228.71 84.08L229.4 82.78L228.71 81.48L230.18 81.43Z" fill="#0000e0" stroke="#0000e0" stroke-width="0.4"/><path d="M235.41 80.18L236.19 81.43L237.66 81.48L236.97 82.78L237.66 84.08L236.19 84.13L235.41 85.38L234.63 84.13L233.16 84.08L233.85 82.78L233.16 81.48L234.63 81.43Z" fill="#0000e0" stroke="#0000e0" stroke-width="0.4"/><path d="M239.86 80.19L240.64 81.44L242.11 81.49L241.42 82.79L242.11 84.09L240.64 84.14L239.86 85.39L239.08 84.14L237.6 84.09L238.3 82.79L237.6 81.49L239.08 81.44Z" fill="#0000e0" stroke="#0000e0" stroke-width="0.4"/><path d="M244.3 80.19L245.08 81.44L246.56 81.49L245.86 82.79L246.56 84.09L245.08 84.14L244.3 85.39L243.52 84.14L242.05 84.09L242.74 82.79L242.05 81.49L243.52 81.44Z" fill="#0000e0" stroke="#0000e0" stroke-width="0.4"/><path d="M248.75 80.2L249.53 81.44L251 81.5L250.31 82.8L251 84.1L249.53 84.15L248.75 85.4L247.97 84.15L246.5 84.1L247.19 82.8L246.5 81.5L247.97 81.44Z" fill="#0000e0" stroke="#0000e0" stroke-width="0.4"/><path d="M253.2 80.2L253.98 81.45L255.45 81.5L254.76 82.8L255.45 84.1L253.98 84.15L253.2 85.4L252.42 84.15L250.95 84.1L251.64 82.8L250.95 81.5L252.42 81.45Z" fill="#0000e0" stroke="#0000e0" stroke-width="0.4"/></g><g clip-path="url(#ac)"><path d="M34.5 24.4L38.6 44L42.6 58.6L47.3 85.4L52 85.4L56.5 86.2L61 88.3L102.3 88.9L106 90.3L114 92.8L119.3 95L123.6 101.3L128.3 106.1L133.1 106.6L137.4 107.7L142.1 115.7L146 119.5L150 120.2L252.8 120.2" fill="none" stroke="#111111" stroke-width="1.5" stroke-linejoin="round"/><path d="M32.3 24.4L36.7 24.4M34.5 22.2L34.5 26.6" stroke="#000000" stroke-width="1.05"/><path d="M37.49 47.96L41.89 47.96M39.69 45.76L39.69 50.16" stroke="#000000" stroke-width="1.05"/><path d="M41.93 67.34L46.33 67.34M44.13 65.14L44.13 69.54" stroke="#000000" stroke-width="1.05"/><path d="M46.38 85.4L50.78 85.4M48.58 83.2L48.58 87.6" stroke="#000000" stroke-width="1.05"/><path d="M50.83 85.58L55.23 85.58M53.03 83.38L53.03 87.78" stroke="#000000" stroke-width="1.05"/><path d="M55.28 86.66L59.68 86.66M57.48 84.46L57.48 88.86" stroke="#000000" stroke-width="1.05"/><path d="M59.73 88.31L64.13 88.31M61.93 86.11L61.93 90.51" stroke="#000000" stroke-width="1.05"/><path d="M64.17 88.38L68.57 88.38M66.37 86.18L66.37 90.58" stroke="#000000" stroke-width="1.05"/><path d="M68.62 88.44L73.02 88.44M70.82 86.24L70.82 90.64" stroke="#000000" stroke-width="1.05"/><path d="M73.07 88.51L77.47 88.51M75.27 86.31L75.27 90.71" stroke="#000000" stroke-width="1.05"/><path d="M77.52 88.57L81.92 88.57M79.72 86.37L79.72 90.77" stroke="#000000" stroke-width="1.05"/><path d="M81.97 88.64L86.37 88.64M84.17 86.44L84.17 90.84" stroke="#000000" stroke-width="1.05"/><path d="M86.42 88.7L90.82 88.7M88.62 86.5L88.62 90.9" stroke="#000000" stroke-width="1.05"/><path d="M90.86 88.77L95.26 88.77M93.06 86.57L93.06 90.97" stroke="#000000" stroke-width="1.05"/><path d="M95.31 88.83L99.71 88.83M97.51 86.63L97.51 91.03" stroke="#000000" stroke-width="1.05"/><path d="M99.76 88.9L104.16 88.9M101.96 86.7L101.96 91.1" stroke="#000000" stroke-width="1.05"/><path d="M104.21 90.43L108.61 90.43M106.41 88.23L106.41 92.63" stroke="#000000" stroke-width="1.05"/><path d="M108.66 91.82L113.06 91.82M110.86 89.62L110.86 94.02" stroke="#000000" stroke-width="1.05"/><path d="M113.1 93.34L117.5 93.34M115.3 91.14L115.3 95.54" stroke="#000000" stroke-width="1.05"/><path d="M117.55 95.66L121.95 95.66M119.75 93.46L119.75 97.86" stroke="#000000" stroke-width="1.05"/><path d="M122 101.91L126.4 101.91M124.2 99.71L124.2 104.11" stroke="#000000" stroke-width="1.05"/><path d="M126.45 106.14L130.85 106.14M128.65 103.94L128.65 108.34" stroke="#000000" stroke-width="1.05"/><path d="M130.9 106.6L135.3 106.6M133.1 104.4L133.1 108.8" stroke="#000000" stroke-width="1.05"/><path d="M135.35 107.95L139.75 107.95M137.55 105.75L137.55 110.15" stroke="#000000" stroke-width="1.05"/><path d="M139.79 115.52L144.19 115.52M141.99 113.32L141.99 117.72" stroke="#000000" stroke-width="1.05"/><path d="M144.24 119.58L148.64 119.58M146.44 117.38L146.44 121.78" stroke="#000000" stroke-width="1.05"/><path d="M148.69 120.2L153.09 120.2M150.89 118L150.89 122.4" stroke="#000000" stroke-width="1.05"/><path d="M153.14 120.2L157.54 120.2M155.34 118L155.34 122.4" stroke="#000000" stroke-width="1.05"/><path d="M157.59 120.2L161.99 120.2M159.79 118L159.79 122.4" stroke="#000000" stroke-width="1.05"/><path d="M162.04 120.2L166.44 120.2M164.24 118L164.24 122.4" stroke="#000000" stroke-width="1.05"/><path d="M166.48 120.2L170.88 120.2M168.68 118L168.68 122.4" stroke="#000000" stroke-width="1.05"/><path d="M170.93 120.2L175.33 120.2M173.13 118L173.13 122.4" stroke="#000000" stroke-width="1.05"/><path d="M175.38 120.2L179.78 120.2M177.58 118L177.58 122.4" stroke="#000000" stroke-width="1.05"/><path d="M179.83 120.2L184.23 120.2M182.03 118L182.03 122.4" stroke="#000000" stroke-width="1.05"/><path d="M184.28 120.2L188.68 120.2M186.48 118L186.48 122.4" stroke="#000000" stroke-width="1.05"/><path d="M188.72 120.2L193.12 120.2M190.92 118L190.92 122.4" stroke="#000000" stroke-width="1.05"/><path d="M193.17 120.2L197.57 120.2M195.37 118L195.37 122.4" stroke="#000000" stroke-width="1.05"/><path d="M197.62 120.2L202.02 120.2M199.82 118L199.82 122.4" stroke="#000000" stroke-width="1.05"/><path d="M202.07 120.2L206.47 120.2M204.27 118L204.27 122.4" stroke="#000000" stroke-width="1.05"/><path d="M206.52 120.2L210.92 120.2M208.72 118L208.72 122.4" stroke="#000000" stroke-width="1.05"/><path d="M210.97 120.2L215.37 120.2M213.17 118L213.17 122.4" stroke="#000000" stroke-width="1.05"/><path d="M215.41 120.2L219.81 120.2M217.61 118L217.61 122.4" stroke="#000000" stroke-width="1.05"/><path d="M219.86 120.2L224.26 120.2M222.06 118L222.06 122.4" stroke="#000000" stroke-width="1.05"/><path d="M224.31 120.2L228.71 120.2M226.51 118L226.51 122.4" stroke="#000000" stroke-width="1.05"/><path d="M228.76 120.2L233.16 120.2M230.96 118L230.96 122.4" stroke="#000000" stroke-width="1.05"/><path d="M233.21 120.2L237.61 120.2M235.41 118L235.41 122.4" stroke="#000000" stroke-width="1.05"/><path d="M237.66 120.2L242.06 120.2M239.86 118L239.86 122.4" stroke="#000000" stroke-width="1.05"/><path d="M242.1 120.2L246.5 120.2M244.3 118L244.3 122.4" stroke="#000000" stroke-width="1.05"/><path d="M246.55 120.2L250.95 120.2M248.75 118L248.75 122.4" stroke="#000000" stroke-width="1.05"/><path d="M251 120.2L255.4 120.2M253.2 118L253.2 122.4" stroke="#000000" stroke-width="1.05"/></g><g clip-path="url(#ac)"><path d="M35.3 13.8L38.2 40L40.5 42.5L44.5 44L48.5 45.8L53.2 50.6L57.7 65.5L61.8 86.5L65.1 100.7L69.5 107.1L73.9 106.3L78.3 107L82.6 108.7L87.4 114.2L91.2 115L95.4 116.5L98.7 119.1L101.4 123.9L105.6 124.9L110.7 143.6L114.7 152L119.1 152.5L123.5 153L127.8 154.2L140 154.6L252.8 154.6" fill="none" stroke="#e01818" stroke-width="1.5" stroke-linejoin="round"/><path d="M32.9 11.4L37.7 13.8L32.9 16.2Z" fill="none" stroke="#f00808" stroke-width="1.05"/><path d="M37.29 39.21L42.09 41.61L37.29 44.01Z" fill="none" stroke="#f00808" stroke-width="1.05"/><path d="M41.73 41.46L46.53 43.86L41.73 46.26Z" fill="none" stroke="#f00808" stroke-width="1.05"/><path d="M46.18 43.48L50.98 45.88L46.18 48.28Z" fill="none" stroke="#f00808" stroke-width="1.05"/><path d="M50.63 48.03L55.43 50.43L50.63 52.83Z" fill="none" stroke="#f00808" stroke-width="1.05"/><path d="M55.08 62.36L59.88 64.76L55.08 67.16Z" fill="none" stroke="#f00808" stroke-width="1.05"/><path d="M59.53 84.64L64.33 87.04L59.53 89.44Z" fill="none" stroke="#f00808" stroke-width="1.05"/><path d="M63.97 100.15L68.77 102.55L63.97 104.95Z" fill="none" stroke="#f00808" stroke-width="1.05"/><path d="M68.42 104.46L73.22 106.86L68.42 109.26Z" fill="none" stroke="#f00808" stroke-width="1.05"/><path d="M72.87 104.12L77.67 106.52L72.87 108.92Z" fill="none" stroke="#f00808" stroke-width="1.05"/><path d="M77.32 105.16L82.12 107.56L77.32 109.96Z" fill="none" stroke="#f00808" stroke-width="1.05"/><path d="M81.77 108.1L86.57 110.5L81.77 112.9Z" fill="none" stroke="#f00808" stroke-width="1.05"/><path d="M86.22 112.06L91.02 114.46L86.22 116.86Z" fill="none" stroke="#f00808" stroke-width="1.05"/><path d="M90.66 113.27L95.46 115.67L90.66 118.07Z" fill="none" stroke="#f00808" stroke-width="1.05"/><path d="M95.11 115.76L99.91 118.16L95.11 120.56Z" fill="none" stroke="#f00808" stroke-width="1.05"/><path d="M99.56 121.63L104.36 124.03L99.56 126.43Z" fill="none" stroke="#f00808" stroke-width="1.05"/><path d="M104.01 125.46L108.81 127.86L104.01 130.26Z" fill="none" stroke="#f00808" stroke-width="1.05"/><path d="M108.46 141.53L113.26 143.93L108.46 146.33Z" fill="none" stroke="#f00808" stroke-width="1.05"/><path d="M112.9 149.67L117.7 152.07L112.9 154.47Z" fill="none" stroke="#f00808" stroke-width="1.05"/><path d="M117.35 150.17L122.15 152.57L117.35 154.97Z" fill="none" stroke="#f00808" stroke-width="1.05"/><path d="M121.8 150.8L126.6 153.2L121.8 155.6Z" fill="none" stroke="#f00808" stroke-width="1.05"/><path d="M126.25 151.83L131.05 154.23L126.25 156.63Z" fill="none" stroke="#f00808" stroke-width="1.05"/><path d="M130.7 151.97L135.5 154.37L130.7 156.77Z" fill="none" stroke="#f00808" stroke-width="1.05"/><path d="M135.15 152.12L139.95 154.52L135.15 156.92Z" fill="none" stroke="#f00808" stroke-width="1.05"/><path d="M139.59 152.2L144.39 154.6L139.59 157Z" fill="none" stroke="#f00808" stroke-width="1.05"/><path d="M144.04 152.2L148.84 154.6L144.04 157Z" fill="none" stroke="#f00808" stroke-width="1.05"/><path d="M148.49 152.2L153.29 154.6L148.49 157Z" fill="none" stroke="#f00808" stroke-width="1.05"/><path d="M152.94 152.2L157.74 154.6L152.94 157Z" fill="none" stroke="#f00808" stroke-width="1.05"/><path d="M157.39 152.2L162.19 154.6L157.39 157Z" fill="none" stroke="#f00808" stroke-width="1.05"/><path d="M161.84 152.2L166.64 154.6L161.84 157Z" fill="none" stroke="#f00808" stroke-width="1.05"/><path d="M166.28 152.2L171.08 154.6L166.28 157Z" fill="none" stroke="#f00808" stroke-width="1.05"/><path d="M170.73 152.2L175.53 154.6L170.73 157Z" fill="none" stroke="#f00808" stroke-width="1.05"/><path d="M175.18 152.2L179.98 154.6L175.18 157Z" fill="none" stroke="#f00808" stroke-width="1.05"/><path d="M179.63 152.2L184.43 154.6L179.63 157Z" fill="none" stroke="#f00808" stroke-width="1.05"/><path d="M184.08 152.2L188.88 154.6L184.08 157Z" fill="none" stroke="#f00808" stroke-width="1.05"/><path d="M188.52 152.2L193.32 154.6L188.52 157Z" fill="none" stroke="#f00808" stroke-width="1.05"/><path d="M192.97 152.2L197.77 154.6L192.97 157Z" fill="none" stroke="#f00808" stroke-width="1.05"/><path d="M197.42 152.2L202.22 154.6L197.42 157Z" fill="none" stroke="#f00808" stroke-width="1.05"/><path d="M201.87 152.2L206.67 154.6L201.87 157Z" fill="none" stroke="#f00808" stroke-width="1.05"/><path d="M206.32 152.2L211.12 154.6L206.32 157Z" fill="none" stroke="#f00808" stroke-width="1.05"/><path d="M210.77 152.2L215.57 154.6L210.77 157Z" fill="none" stroke="#f00808" stroke-width="1.05"/><path d="M215.21 152.2L220.01 154.6L215.21 157Z" fill="none" stroke="#f00808" stroke-width="1.05"/><path d="M219.66 152.2L224.46 154.6L219.66 157Z" fill="none" stroke="#f00808" stroke-width="1.05"/><path d="M224.11 152.2L228.91 154.6L224.11 157Z" fill="none" stroke="#f00808" stroke-width="1.05"/><path d="M228.56 152.2L233.36 154.6L228.56 157Z" fill="none" stroke="#f00808" stroke-width="1.05"/><path d="M233.01 152.2L237.81 154.6L233.01 157Z" fill="none" stroke="#f00808" stroke-width="1.05"/><path d="M237.46 152.2L242.26 154.6L237.46 157Z" fill="none" stroke="#f00808" stroke-width="1.05"/><path d="M241.9 152.2L246.7 154.6L241.9 157Z" fill="none" stroke="#f00808" stroke-width="1.05"/><path d="M246.35 152.2L251.15 154.6L246.35 157Z" fill="none" stroke="#f00808" stroke-width="1.05"/><path d="M250.8 152.2L255.6 154.6L250.8 157Z" fill="none" stroke="#f00808" stroke-width="1.05"/></g><text x="34.4" y="181.8" font-family="Liberation Sans, sans-serif" font-size="6.6" fill="#262626" stroke="#262626" stroke-width="0.22" text-anchor="middle">0</text><text x="56.24" y="181.8" font-family="Liberation Sans, sans-serif" font-size="6.6" fill="#262626" stroke="#262626" stroke-width="0.22" text-anchor="middle">50</text><text x="78.08" y="181.8" font-family="Liberation Sans, sans-serif" font-size="6.6" fill="#262626" stroke="#262626" stroke-width="0.22" text-anchor="middle">100</text><text x="99.92" y="181.8" font-family="Liberation Sans, sans-serif" font-size="6.6" fill="#262626" stroke="#262626" stroke-width="0.22" text-anchor="middle">150</text><text x="121.76" y="181.8" font-family="Liberation Sans, sans-serif" font-size="6.6" fill="#262626" stroke="#262626" stroke-width="0.22" text-anchor="middle">200</text><text x="143.6" y="181.8" font-family="Liberation Sans, sans-serif" font-size="6.6" fill="#262626" stroke="#262626" stroke-width="0.22" text-anchor="middle">250</text><text x="165.44" y="181.8" font-family="Liberation Sans, sans-serif" font-size="6.6" fill="#262626" stroke="#262626" stroke-width="0.22" text-anchor="middle">300</text><text x="187.28" y="181.8" font-family="Liberation Sans, sans-serif" font-size="6.6" fill="#262626" stroke="#262626" stroke-width="0.22" text-anchor="middle">350</text><text x="209.12" y="181.8" font-family="Liberation Sans, sans-serif" font-size="6.6" fill="#262626" stroke="#262626" stroke-width="0.22" text-anchor="middle">400</text><text x="230.96" y="181.8" font-family="Liberation Sans, sans-serif" font-size="6.6" fill="#262626" stroke="#262626" stroke-width="0.22" text-anchor="middle">450</text><text x="252.8" y="181.8" font-family="Liberation Sans, sans-serif" font-size="6.6" fill="#262626" stroke="#262626" stroke-width="0.22" text-anchor="middle">500</text><text x="29.45" y="176.2" font-family="Liberation Sans, sans-serif" font-size="6.9" fill="#262626" stroke="#262626" stroke-width="0.22" text-anchor="end">10</text><text x="29.35" y="173.2" font-family="Liberation Sans, sans-serif" font-size="5.3" fill="#262626" stroke="#262626" stroke-width="0.22">2</text><text x="29.45" y="134" font-family="Liberation Sans, sans-serif" font-size="6.9" fill="#262626" stroke="#262626" stroke-width="0.22" text-anchor="end">10</text><text x="29.35" y="131" font-family="Liberation Sans, sans-serif" font-size="5.3" fill="#262626" stroke="#262626" stroke-width="0.22">4</text><text x="29.45" y="91.8" font-family="Liberation Sans, sans-serif" font-size="6.9" fill="#262626" stroke="#262626" stroke-width="0.22" text-anchor="end">10</text><text x="29.35" y="88.8" font-family="Liberation Sans, sans-serif" font-size="5.3" fill="#262626" stroke="#262626" stroke-width="0.22">6</text><text x="29.45" y="49.6" font-family="Liberation Sans, sans-serif" font-size="6.9" fill="#262626" stroke="#262626" stroke-width="0.22" text-anchor="end">10</text><text x="29.35" y="46.6" font-family="Liberation Sans, sans-serif" font-size="5.3" fill="#262626" stroke="#262626" stroke-width="0.22">8</text><text x="26.51" y="7.4" font-family="Liberation Sans, sans-serif" font-size="6.9" fill="#262626" stroke="#262626" stroke-width="0.22" text-anchor="end">10</text><text x="26.41" y="4.4" font-family="Liberation Sans, sans-serif" font-size="5.3" fill="#262626" stroke="#262626" stroke-width="0.22">10</text><rect x="202.6" y="8.9" width="45" height="66.2" fill="#fff" stroke="#a0a0a0" stroke-width="0.7"/><path d="M204.4 13.8H224.5" stroke="#f040f0" stroke-width="1.3"/><rect x="212.75" y="12.1" width="3.4" height="3.4" fill="none" stroke="#f000f0" stroke-width="1.05"/><text x="226" y="15.8" font-family="Liberation Sans, sans-serif" font-size="6.05" fill="#333" stroke="#333" stroke-width="0.1">BWO</text><path d="M204.4 21.9H224.5" stroke="#4040f4" stroke-width="1.3"/><circle cx="214.45" cy="21.9" r="1.9" fill="none" stroke="#0000f0" stroke-width="1.15"/><text x="226" y="23.9" font-family="Liberation Sans, sans-serif" font-size="6.05" fill="#333" stroke="#333" stroke-width="0.1">HHO</text><path d="M204.4 30H224.5" stroke="#111111" stroke-width="1.3"/><path d="M214.45 27.2L215.14 29.05L217.11 29.13L215.57 30.36L216.1 32.27L214.45 31.18L212.8 32.27L213.33 30.36L211.79 29.13L213.76 29.05Z" fill="#000000" stroke="#000000" stroke-width="0.4"/><text x="226" y="32" font-family="Liberation Sans, sans-serif" font-size="6.05" fill="#333" stroke="#333" stroke-width="0.1">DBO</text><path d="M204.4 38.1H224.5" stroke="#18f0f0" stroke-width="1.3"/><path d="M214.45 35.2L216.45 38.1L214.45 41L212.45 38.1Z" fill="none" stroke="#00ecec" stroke-width="1.05"/><text x="226" y="40.1" font-family="Liberation Sans, sans-serif" font-size="6.05" fill="#333" stroke="#333" stroke-width="0.1">GJO</text><path d="M204.4 46.3H224.5" stroke="#10ee10" stroke-width="1.3"/><path d="M212.95 44.8L215.95 47.8M212.95 47.8L215.95 44.8" stroke="#00e400" stroke-width="1.05"/><text x="226" y="48.3" font-family="Liberation Sans, sans-serif" font-size="6.05" fill="#333" stroke="#333" stroke-width="0.1">RSO</text><path d="M204.4 54.5H224.5" stroke="#1c1cd0" stroke-width="1.3"/><path d="M214.45 51.9L215.23 53.15L216.7 53.2L216.01 54.5L216.7 55.8L215.23 55.85L214.45 57.1L213.67 55.85L212.2 55.8L212.89 54.5L212.2 53.2L213.67 53.15Z" fill="#0000e0" stroke="#0000e0" stroke-width="0.4"/><text x="226" y="56.5" font-family="Liberation Sans, sans-serif" font-size="6.05" fill="#333" stroke="#333" stroke-width="0.1">WOA</text><path d="M204.4 62.5H224.5" stroke="#111111" stroke-width="1.3"/><path d="M212.25 62.5L216.65 62.5M214.45 60.3L214.45 64.7" stroke="#000000" stroke-width="1.05"/><text x="226" y="64.5" font-family="Liberation Sans, sans-serif" font-size="6.05" fill="#333" stroke="#333" stroke-width="0.1">SO</text><path d="M204.4 70.6H224.5" stroke="#e01818" stroke-width="1.3"/><path d="M212.05 68.2L216.85 70.6L212.05 73Z" fill="none" stroke="#f00808" stroke-width="1.05"/><text x="226" y="72.6" font-family="Liberation Sans, sans-serif" font-size="6.05" fill="#333" stroke="#333" stroke-width="0.1">W-SO</text><text x="144.5" y="194.2" font-family="Liberation Serif, serif" font-size="9.7" fill="#262626" stroke="#262626" stroke-width="0.15" text-anchor="middle">iteration times</text><text transform="translate(17 86.5) rotate(-90)" font-family="Liberation Serif, serif" font-size="9.7" fill="#262626" stroke="#262626" stroke-width="0.15" text-anchor="middle">error values</text><clipPath id="b"><rect x="401.9" y="3.4" width="214.4" height="165.8"/></clipPath><g stroke="#d4d4d4" stroke-width="0.6" stroke-dasharray="0.6 1.3"><path d="M401.9 160.88H616.3"/><path d="M401.9 156.02H616.3"/><path d="M401.9 152.56H616.3"/><path d="M401.9 149.89H616.3"/><path d="M401.9 147.7H616.3"/><path d="M401.9 145.85H616.3"/><path d="M401.9 144.24H616.3"/><path d="M401.9 142.83H616.3"/><path d="M401.9 133.25H616.3"/><path d="M401.9 128.38H616.3"/><path d="M401.9 124.93H616.3"/><path d="M401.9 122.25H616.3"/><path d="M401.9 120.06H616.3"/><path d="M401.9 118.21H616.3"/><path d="M401.9 116.61H616.3"/><path d="M401.9 115.2H616.3"/><path d="M401.9 105.61H616.3"/><path d="M401.9 100.75H616.3"/><path d="M401.9 97.3H616.3"/><path d="M401.9 94.62H616.3"/><path d="M401.9 92.43H616.3"/><path d="M401.9 90.58H616.3"/><path d="M401.9 88.98H616.3"/><path d="M401.9 87.56H616.3"/><path d="M401.9 77.98H616.3"/><path d="M401.9 73.12H616.3"/><path d="M401.9 69.66H616.3"/><path d="M401.9 66.99H616.3"/><path d="M401.9 64.8H616.3"/><path d="M401.9 62.95H616.3"/><path d="M401.9 61.34H616.3"/><path d="M401.9 59.93H616.3"/><path d="M401.9 50.35H616.3"/><path d="M401.9 45.48H616.3"/><path d="M401.9 42.03H616.3"/><path d="M401.9 39.35H616.3"/><path d="M401.9 37.16H616.3"/><path d="M401.9 35.31H616.3"/><path d="M401.9 33.71H616.3"/><path d="M401.9 32.3H616.3"/><path d="M401.9 22.71H616.3"/><path d="M401.9 17.85H616.3"/><path d="M401.9 14.4H616.3"/><path d="M401.9 11.72H616.3"/><path d="M401.9 9.53H616.3"/><path d="M401.9 7.68H616.3"/><path d="M401.9 6.08H616.3"/><path d="M401.9 4.66H616.3"/></g><g stroke="#e4e4e4" stroke-width="0.6"><path d="M423.34 3.4V169.2"/><path d="M444.78 3.4V169.2"/><path d="M466.22 3.4V169.2"/><path d="M487.66 3.4V169.2"/><path d="M509.1 3.4V169.2"/><path d="M530.54 3.4V169.2"/><path d="M551.98 3.4V169.2"/><path d="M573.42 3.4V169.2"/><path d="M594.86 3.4V169.2"/><path d="M401.9 141.57H616.3"/><path d="M401.9 113.93H616.3"/><path d="M401.9 86.3H616.3"/><path d="M401.9 58.67H616.3"/><path d="M401.9 31.03H616.3"/><path d="M401.9 3.4H616.3"/></g><g stroke="#9a9a9a" stroke-width="0.6"><path d="M401.9 169.2v-2M401.9 3.4v2"/><path d="M423.34 169.2v-2M423.34 3.4v2"/><path d="M444.78 169.2v-2M444.78 3.4v2"/><path d="M466.22 169.2v-2M466.22 3.4v2"/><path d="M487.66 169.2v-2M487.66 3.4v2"/><path d="M509.1 169.2v-2M509.1 3.4v2"/><path d="M530.54 169.2v-2M530.54 3.4v2"/><path d="M551.98 169.2v-2M551.98 3.4v2"/><path d="M573.42 169.2v-2M573.42 3.4v2"/><path d="M594.86 169.2v-2M594.86 3.4v2"/><path d="M616.3 169.2v-2M616.3 3.4v2"/><path d="M401.9 169.2h2.2M616.3 169.2h-2.2"/><path d="M401.9 160.88h1.2M616.3 160.88h-1.2"/><path d="M401.9 156.02h1.2M616.3 156.02h-1.2"/><path d="M401.9 152.56h1.2M616.3 152.56h-1.2"/><path d="M401.9 149.89h1.2M616.3 149.89h-1.2"/><path d="M401.9 147.7h1.2M616.3 147.7h-1.2"/><path d="M401.9 145.85h1.2M616.3 145.85h-1.2"/><path d="M401.9 144.24h1.2M616.3 144.24h-1.2"/><path d="M401.9 142.83h1.2M616.3 142.83h-1.2"/><path d="M401.9 141.57h2.2M616.3 141.57h-2.2"/><path d="M401.9 133.25h1.2M616.3 133.25h-1.2"/><path d="M401.9 128.38h1.2M616.3 128.38h-1.2"/><path d="M401.9 124.93h1.2M616.3 124.93h-1.2"/><path d="M401.9 122.25h1.2M616.3 122.25h-1.2"/><path d="M401.9 120.06h1.2M616.3 120.06h-1.2"/><path d="M401.9 118.21h1.2M616.3 118.21h-1.2"/><path d="M401.9 116.61h1.2M616.3 116.61h-1.2"/><path d="M401.9 115.2h1.2M616.3 115.2h-1.2"/><path d="M401.9 113.93h2.2M616.3 113.93h-2.2"/><path d="M401.9 105.61h1.2M616.3 105.61h-1.2"/><path d="M401.9 100.75h1.2M616.3 100.75h-1.2"/><path d="M401.9 97.3h1.2M616.3 97.3h-1.2"/><path d="M401.9 94.62h1.2M616.3 94.62h-1.2"/><path d="M401.9 92.43h1.2M616.3 92.43h-1.2"/><path d="M401.9 90.58h1.2M616.3 90.58h-1.2"/><path d="M401.9 88.98h1.2M616.3 88.98h-1.2"/><path d="M401.9 87.56h1.2M616.3 87.56h-1.2"/><path d="M401.9 86.3h2.2M616.3 86.3h-2.2"/><path d="M401.9 77.98h1.2M616.3 77.98h-1.2"/><path d="M401.9 73.12h1.2M616.3 73.12h-1.2"/><path d="M401.9 69.66h1.2M616.3 69.66h-1.2"/><path d="M401.9 66.99h1.2M616.3 66.99h-1.2"/><path d="M401.9 64.8h1.2M616.3 64.8h-1.2"/><path d="M401.9 62.95h1.2M616.3 62.95h-1.2"/><path d="M401.9 61.34h1.2M616.3 61.34h-1.2"/><path d="M401.9 59.93h1.2M616.3 59.93h-1.2"/><path d="M401.9 58.67h2.2M616.3 58.67h-2.2"/><path d="M401.9 50.35h1.2M616.3 50.35h-1.2"/><path d="M401.9 45.48h1.2M616.3 45.48h-1.2"/><path d="M401.9 42.03h1.2M616.3 42.03h-1.2"/><path d="M401.9 39.35h1.2M616.3 39.35h-1.2"/><path d="M401.9 37.16h1.2M616.3 37.16h-1.2"/><path d="M401.9 35.31h1.2M616.3 35.31h-1.2"/><path d="M401.9 33.71h1.2M616.3 33.71h-1.2"/><path d="M401.9 32.3h1.2M616.3 32.3h-1.2"/><path d="M401.9 31.03h2.2M616.3 31.03h-2.2"/><path d="M401.9 22.71h1.2M616.3 22.71h-1.2"/><path d="M401.9 17.85h1.2M616.3 17.85h-1.2"/><path d="M401.9 14.4h1.2M616.3 14.4h-1.2"/><path d="M401.9 11.72h1.2M616.3 11.72h-1.2"/><path d="M401.9 9.53h1.2M616.3 9.53h-1.2"/><path d="M401.9 7.68h1.2M616.3 7.68h-1.2"/><path d="M401.9 6.08h1.2M616.3 6.08h-1.2"/><path d="M401.9 4.66h1.2M616.3 4.66h-1.2"/><path d="M401.9 3.4h2.2M616.3 3.4h-2.2"/></g><rect x="401.9" y="3.4" width="214.4" height="165.8" fill="none" stroke="#9a9a9a" stroke-width="0.9"/><g clip-path="url(#bc)"><path d="M402 30.1L405 75L407.5 85.5L408.5 86.7L417.1 86.7L419.8 93.1L423.3 106L426 112.8L483 112.6L616.3 113" fill="none" stroke="#f040f0" stroke-width="1.5" stroke-linejoin="round"/><rect x="400.3" y="28.4" width="3.4" height="3.4" fill="none" stroke="#f000f0" stroke-width="1.05"/><rect x="405.4" y="82.1" width="3.4" height="3.4" fill="none" stroke="#f000f0" stroke-width="1.05"/><rect x="409.76" y="85" width="3.4" height="3.4" fill="none" stroke="#f000f0" stroke-width="1.05"/><rect x="414.13" y="85" width="3.4" height="3.4" fill="none" stroke="#f000f0" stroke-width="1.05"/><rect x="418.5" y="92.86" width="3.4" height="3.4" fill="none" stroke="#f000f0" stroke-width="1.05"/><rect x="422.86" y="107.48" width="3.4" height="3.4" fill="none" stroke="#f000f0" stroke-width="1.05"/><rect x="427.23" y="111.09" width="3.4" height="3.4" fill="none" stroke="#f000f0" stroke-width="1.05"/><rect x="431.6" y="111.07" width="3.4" height="3.4" fill="none" stroke="#f000f0" stroke-width="1.05"/><rect x="435.96" y="111.06" width="3.4" height="3.4" fill="none" stroke="#f000f0" stroke-width="1.05"/><rect x="440.33" y="111.04" width="3.4" height="3.4" fill="none" stroke="#f000f0" stroke-width="1.05"/><rect x="444.7" y="111.03" width="3.4" height="3.4" fill="none" stroke="#f000f0" stroke-width="1.05"/><rect x="449.06" y="111.01" width="3.4" height="3.4" fill="none" stroke="#f000f0" stroke-width="1.05"/><rect x="453.43" y="111" width="3.4" height="3.4" fill="none" stroke="#f000f0" stroke-width="1.05"/><rect x="457.8" y="110.98" width="3.4" height="3.4" fill="none" stroke="#f000f0" stroke-width="1.05"/><rect x="462.16" y="110.97" width="3.4" height="3.4" fill="none" stroke="#f000f0" stroke-width="1.05"/><rect x="466.53" y="110.95" width="3.4" height="3.4" fill="none" stroke="#f000f0" stroke-width="1.05"/><rect x="470.9" y="110.94" width="3.4" height="3.4" fill="none" stroke="#f000f0" stroke-width="1.05"/><rect x="475.26" y="110.92" width="3.4" height="3.4" fill="none" stroke="#f000f0" stroke-width="1.05"/><rect x="479.63" y="110.91" width="3.4" height="3.4" fill="none" stroke="#f000f0" stroke-width="1.05"/><rect x="484" y="110.91" width="3.4" height="3.4" fill="none" stroke="#f000f0" stroke-width="1.05"/><rect x="488.36" y="110.92" width="3.4" height="3.4" fill="none" stroke="#f000f0" stroke-width="1.05"/><rect x="492.73" y="110.93" width="3.4" height="3.4" fill="none" stroke="#f000f0" stroke-width="1.05"/><rect x="497.1" y="110.95" width="3.4" height="3.4" fill="none" stroke="#f000f0" stroke-width="1.05"/><rect x="501.46" y="110.96" width="3.4" height="3.4" fill="none" stroke="#f000f0" stroke-width="1.05"/><rect x="505.83" y="110.97" width="3.4" height="3.4" fill="none" stroke="#f000f0" stroke-width="1.05"/><rect x="510.2" y="110.99" width="3.4" height="3.4" fill="none" stroke="#f000f0" stroke-width="1.05"/><rect x="514.56" y="111" width="3.4" height="3.4" fill="none" stroke="#f000f0" stroke-width="1.05"/><rect x="518.93" y="111.01" width="3.4" height="3.4" fill="none" stroke="#f000f0" stroke-width="1.05"/><rect x="523.3" y="111.03" width="3.4" height="3.4" fill="none" stroke="#f000f0" stroke-width="1.05"/><rect x="527.66" y="111.04" width="3.4" height="3.4" fill="none" stroke="#f000f0" stroke-width="1.05"/><rect x="532.03" y="111.05" width="3.4" height="3.4" fill="none" stroke="#f000f0" stroke-width="1.05"/><rect x="536.4" y="111.07" width="3.4" height="3.4" fill="none" stroke="#f000f0" stroke-width="1.05"/><rect x="540.77" y="111.08" width="3.4" height="3.4" fill="none" stroke="#f000f0" stroke-width="1.05"/><rect x="545.13" y="111.09" width="3.4" height="3.4" fill="none" stroke="#f000f0" stroke-width="1.05"/><rect x="549.5" y="111.1" width="3.4" height="3.4" fill="none" stroke="#f000f0" stroke-width="1.05"/><rect x="553.87" y="111.12" width="3.4" height="3.4" fill="none" stroke="#f000f0" stroke-width="1.05"/><rect x="558.23" y="111.13" width="3.4" height="3.4" fill="none" stroke="#f000f0" stroke-width="1.05"/><rect x="562.6" y="111.14" width="3.4" height="3.4" fill="none" stroke="#f000f0" stroke-width="1.05"/><rect x="566.97" y="111.16" width="3.4" height="3.4" fill="none" stroke="#f000f0" stroke-width="1.05"/><rect x="571.33" y="111.17" width="3.4" height="3.4" fill="none" stroke="#f000f0" stroke-width="1.05"/><rect x="575.7" y="111.18" width="3.4" height="3.4" fill="none" stroke="#f000f0" stroke-width="1.05"/><rect x="580.07" y="111.2" width="3.4" height="3.4" fill="none" stroke="#f000f0" stroke-width="1.05"/><rect x="584.43" y="111.21" width="3.4" height="3.4" fill="none" stroke="#f000f0" stroke-width="1.05"/><rect x="588.8" y="111.22" width="3.4" height="3.4" fill="none" stroke="#f000f0" stroke-width="1.05"/><rect x="593.17" y="111.24" width="3.4" height="3.4" fill="none" stroke="#f000f0" stroke-width="1.05"/><rect x="597.53" y="111.25" width="3.4" height="3.4" fill="none" stroke="#f000f0" stroke-width="1.05"/><rect x="601.9" y="111.26" width="3.4" height="3.4" fill="none" stroke="#f000f0" stroke-width="1.05"/><rect x="606.27" y="111.27" width="3.4" height="3.4" fill="none" stroke="#f000f0" stroke-width="1.05"/><rect x="610.63" y="111.29" width="3.4" height="3.4" fill="none" stroke="#f000f0" stroke-width="1.05"/><rect x="615" y="111.3" width="3.4" height="3.4" fill="none" stroke="#f000f0" stroke-width="1.05"/></g><g clip-path="url(#bc)"><path d="M402 59.6L406 92L410 108L413.5 117.5L424 117.5L428 118.5L440 121L446.5 121.5L450.5 133.4L454.6 148.3L458.6 150.8L462.5 152.5L467 154.5L472.2 157.6L480 159L485.2 160.1L494 160.5L498 161L502.5 163.2L616.3 163.4" fill="none" stroke="#4040f4" stroke-width="1.5" stroke-linejoin="round"/><circle cx="402" cy="59.6" r="1.9" fill="none" stroke="#0000f0" stroke-width="1.15"/><circle cx="407.1" cy="96.38" r="1.9" fill="none" stroke="#0000f0" stroke-width="1.15"/><circle cx="411.46" cy="111.97" r="1.9" fill="none" stroke="#0000f0" stroke-width="1.15"/><circle cx="415.83" cy="117.5" r="1.9" fill="none" stroke="#0000f0" stroke-width="1.15"/><circle cx="420.2" cy="117.5" r="1.9" fill="none" stroke="#0000f0" stroke-width="1.15"/><circle cx="424.56" cy="117.64" r="1.9" fill="none" stroke="#0000f0" stroke-width="1.15"/><circle cx="428.93" cy="118.69" r="1.9" fill="none" stroke="#0000f0" stroke-width="1.15"/><circle cx="433.3" cy="119.6" r="1.9" fill="none" stroke="#0000f0" stroke-width="1.15"/><circle cx="437.66" cy="120.51" r="1.9" fill="none" stroke="#0000f0" stroke-width="1.15"/><circle cx="442.03" cy="121.16" r="1.9" fill="none" stroke="#0000f0" stroke-width="1.15"/><circle cx="446.4" cy="121.49" r="1.9" fill="none" stroke="#0000f0" stroke-width="1.15"/><circle cx="450.76" cy="134.36" r="1.9" fill="none" stroke="#0000f0" stroke-width="1.15"/><circle cx="455.13" cy="148.63" r="1.9" fill="none" stroke="#0000f0" stroke-width="1.15"/><circle cx="459.5" cy="151.19" r="1.9" fill="none" stroke="#0000f0" stroke-width="1.15"/><circle cx="463.86" cy="153.11" r="1.9" fill="none" stroke="#0000f0" stroke-width="1.15"/><circle cx="468.23" cy="155.23" r="1.9" fill="none" stroke="#0000f0" stroke-width="1.15"/><circle cx="472.6" cy="157.67" r="1.9" fill="none" stroke="#0000f0" stroke-width="1.15"/><circle cx="476.96" cy="158.46" r="1.9" fill="none" stroke="#0000f0" stroke-width="1.15"/><circle cx="481.33" cy="159.28" r="1.9" fill="none" stroke="#0000f0" stroke-width="1.15"/><circle cx="485.7" cy="160.12" r="1.9" fill="none" stroke="#0000f0" stroke-width="1.15"/><circle cx="490.06" cy="160.32" r="1.9" fill="none" stroke="#0000f0" stroke-width="1.15"/><circle cx="494.43" cy="160.55" r="1.9" fill="none" stroke="#0000f0" stroke-width="1.15"/><circle cx="498.8" cy="161.39" r="1.9" fill="none" stroke="#0000f0" stroke-width="1.15"/><circle cx="503.16" cy="163.2" r="1.9" fill="none" stroke="#0000f0" stroke-width="1.15"/><circle cx="507.53" cy="163.21" r="1.9" fill="none" stroke="#0000f0" stroke-width="1.15"/><circle cx="511.9" cy="163.22" r="1.9" fill="none" stroke="#0000f0" stroke-width="1.15"/><circle cx="516.26" cy="163.22" r="1.9" fill="none" stroke="#0000f0" stroke-width="1.15"/><circle cx="520.63" cy="163.23" r="1.9" fill="none" stroke="#0000f0" stroke-width="1.15"/><circle cx="525" cy="163.24" r="1.9" fill="none" stroke="#0000f0" stroke-width="1.15"/><circle cx="529.36" cy="163.25" r="1.9" fill="none" stroke="#0000f0" stroke-width="1.15"/><circle cx="533.73" cy="163.25" r="1.9" fill="none" stroke="#0000f0" stroke-width="1.15"/><circle cx="538.1" cy="163.26" r="1.9" fill="none" stroke="#0000f0" stroke-width="1.15"/><circle cx="542.47" cy="163.27" r="1.9" fill="none" stroke="#0000f0" stroke-width="1.15"/><circle cx="546.83" cy="163.28" r="1.9" fill="none" stroke="#0000f0" stroke-width="1.15"/><circle cx="551.2" cy="163.29" r="1.9" fill="none" stroke="#0000f0" stroke-width="1.15"/><circle cx="555.57" cy="163.29" r="1.9" fill="none" stroke="#0000f0" stroke-width="1.15"/><circle cx="559.93" cy="163.3" r="1.9" fill="none" stroke="#0000f0" stroke-width="1.15"/><circle cx="564.3" cy="163.31" r="1.9" fill="none" stroke="#0000f0" stroke-width="1.15"/><circle cx="568.67" cy="163.32" r="1.9" fill="none" stroke="#0000f0" stroke-width="1.15"/><circle cx="573.03" cy="163.32" r="1.9" fill="none" stroke="#0000f0" stroke-width="1.15"/><circle cx="577.4" cy="163.33" r="1.9" fill="none" stroke="#0000f0" stroke-width="1.15"/><circle cx="581.77" cy="163.34" r="1.9" fill="none" stroke="#0000f0" stroke-width="1.15"/><circle cx="586.13" cy="163.35" r="1.9" fill="none" stroke="#0000f0" stroke-width="1.15"/><circle cx="590.5" cy="163.35" r="1.9" fill="none" stroke="#0000f0" stroke-width="1.15"/><circle cx="594.87" cy="163.36" r="1.9" fill="none" stroke="#0000f0" stroke-width="1.15"/><circle cx="599.23" cy="163.37" r="1.9" fill="none" stroke="#0000f0" stroke-width="1.15"/><circle cx="603.6" cy="163.38" r="1.9" fill="none" stroke="#0000f0" stroke-width="1.15"/><circle cx="607.97" cy="163.39" r="1.9" fill="none" stroke="#0000f0" stroke-width="1.15"/><circle cx="612.33" cy="163.39" r="1.9" fill="none" stroke="#0000f0" stroke-width="1.15"/><circle cx="616.7" cy="163.4" r="1.9" fill="none" stroke="#0000f0" stroke-width="1.15"/></g><g clip-path="url(#bc)"><path d="M402 6.6L404 60L406.2 103L410.5 111.5L481 111.5L483.4 115.5L507.7 115.5L511.3 128.3L515.3 133.6L578.3 134.2L580.5 141.3L616.3 140.8" fill="none" stroke="#111111" stroke-width="1.5" stroke-linejoin="round"/><path d="M402 3.8L402.69 5.65L404.66 5.73L403.12 6.96L403.65 8.87L402 7.78L400.35 8.87L400.88 6.96L399.34 5.73L401.31 5.65Z" fill="#000000" stroke="#000000" stroke-width="0.4"/><path d="M407.1 101.97L407.79 103.82L409.76 103.91L408.21 105.13L408.74 107.04L407.1 105.95L405.45 107.04L405.98 105.13L404.43 103.91L406.4 103.82Z" fill="#000000" stroke="#000000" stroke-width="0.4"/><path d="M411.46 108.7L412.15 110.55L414.13 110.63L412.58 111.86L413.11 113.77L411.46 112.68L409.82 113.77L410.34 111.86L408.8 110.63L410.77 110.55Z" fill="#000000" stroke="#000000" stroke-width="0.4"/><path d="M415.83 108.7L416.52 110.55L418.49 110.63L416.95 111.86L417.47 113.77L415.83 112.68L414.18 113.77L414.71 111.86L413.17 110.63L415.14 110.55Z" fill="#000000" stroke="#000000" stroke-width="0.4"/><path d="M420.2 108.7L420.89 110.55L422.86 110.63L421.31 111.86L421.84 113.77L420.2 112.68L418.55 113.77L419.08 111.86L417.53 110.63L419.5 110.55Z" fill="#000000" stroke="#000000" stroke-width="0.4"/><path d="M424.56 108.7L425.25 110.55L427.23 110.63L425.68 111.86L426.21 113.77L424.56 112.68L422.92 113.77L423.44 111.86L421.9 110.63L423.87 110.55Z" fill="#000000" stroke="#000000" stroke-width="0.4"/><path d="M428.93 108.7L429.62 110.55L431.59 110.63L430.05 111.86L430.58 113.77L428.93 112.68L427.28 113.77L427.81 111.86L426.27 110.63L428.24 110.55Z" fill="#000000" stroke="#000000" stroke-width="0.4"/><path d="M433.3 108.7L433.99 110.55L435.96 110.63L434.41 111.86L434.94 113.77L433.3 112.68L431.65 113.77L432.18 111.86L430.63 110.63L432.6 110.55Z" fill="#000000" stroke="#000000" stroke-width="0.4"/><path d="M437.66 108.7L438.35 110.55L440.33 110.63L438.78 111.86L439.31 113.77L437.66 112.68L436.02 113.77L436.54 111.86L435 110.63L436.97 110.55Z" fill="#000000" stroke="#000000" stroke-width="0.4"/><path d="M442.03 108.7L442.72 110.55L444.69 110.63L443.15 111.86L443.68 113.77L442.03 112.68L440.38 113.77L440.91 111.86L439.37 110.63L441.34 110.55Z" fill="#000000" stroke="#000000" stroke-width="0.4"/><path d="M446.4 108.7L447.09 110.55L449.06 110.63L447.51 111.86L448.04 113.77L446.4 112.68L444.75 113.77L445.28 111.86L443.73 110.63L445.71 110.55Z" fill="#000000" stroke="#000000" stroke-width="0.4"/><path d="M450.76 108.7L451.45 110.55L453.43 110.63L451.88 111.86L452.41 113.77L450.76 112.68L449.12 113.77L449.64 111.86L448.1 110.63L450.07 110.55Z" fill="#000000" stroke="#000000" stroke-width="0.4"/><path d="M455.13 108.7L455.82 110.55L457.79 110.63L456.25 111.86L456.78 113.77L455.13 112.68L453.48 113.77L454.01 111.86L452.47 110.63L454.44 110.55Z" fill="#000000" stroke="#000000" stroke-width="0.4"/><path d="M459.5 108.7L460.19 110.55L462.16 110.63L460.62 111.86L461.14 113.77L459.5 112.68L457.85 113.77L458.38 111.86L456.83 110.63L458.81 110.55Z" fill="#000000" stroke="#000000" stroke-width="0.4"/><path d="M463.86 108.7L464.55 110.55L466.53 110.63L464.98 111.86L465.51 113.77L463.86 112.68L462.22 113.77L462.74 111.86L461.2 110.63L463.17 110.55Z" fill="#000000" stroke="#000000" stroke-width="0.4"/><path d="M468.23 108.7L468.92 110.55L470.89 110.63L469.35 111.86L469.88 113.77L468.23 112.68L466.58 113.77L467.11 111.86L465.57 110.63L467.54 110.55Z" fill="#000000" stroke="#000000" stroke-width="0.4"/><path d="M472.6 108.7L473.29 110.55L475.26 110.63L473.72 111.86L474.24 113.77L472.6 112.68L470.95 113.77L471.48 111.86L469.93 110.63L471.91 110.55Z" fill="#000000" stroke="#000000" stroke-width="0.4"/><path d="M476.96 108.7L477.65 110.55L479.63 110.63L478.08 111.86L478.61 113.77L476.96 112.68L475.32 113.77L475.85 111.86L474.3 110.63L476.27 110.55Z" fill="#000000" stroke="#000000" stroke-width="0.4"/><path d="M481.33 109.25L482.02 111.1L483.99 111.19L482.45 112.41L482.98 114.32L481.33 113.23L479.68 114.32L480.21 112.41L478.67 111.19L480.64 111.1Z" fill="#000000" stroke="#000000" stroke-width="0.4"/><path d="M485.7 112.7L486.39 114.55L488.36 114.63L486.82 115.86L487.34 117.77L485.7 116.68L484.05 117.77L484.58 115.86L483.03 114.63L485.01 114.55Z" fill="#000000" stroke="#000000" stroke-width="0.4"/><path d="M490.06 112.7L490.76 114.55L492.73 114.63L491.18 115.86L491.71 117.77L490.06 116.68L488.42 117.77L488.95 115.86L487.4 114.63L489.37 114.55Z" fill="#000000" stroke="#000000" stroke-width="0.4"/><path d="M494.43 112.7L495.12 114.55L497.09 114.63L495.55 115.86L496.08 117.77L494.43 116.68L492.78 117.77L493.31 115.86L491.77 114.63L493.74 114.55Z" fill="#000000" stroke="#000000" stroke-width="0.4"/><path d="M498.8 112.7L499.49 114.55L501.46 114.63L499.92 115.86L500.44 117.77L498.8 116.68L497.15 117.77L497.68 115.86L496.13 114.63L498.11 114.55Z" fill="#000000" stroke="#000000" stroke-width="0.4"/><path d="M503.16 112.7L503.86 114.55L505.83 114.63L504.28 115.86L504.81 117.77L503.16 116.68L501.52 117.77L502.05 115.86L500.5 114.63L502.47 114.55Z" fill="#000000" stroke="#000000" stroke-width="0.4"/><path d="M507.53 112.7L508.22 114.55L510.19 114.63L508.65 115.86L509.18 117.77L507.53 116.68L505.89 117.77L506.41 115.86L504.87 114.63L506.84 114.55Z" fill="#000000" stroke="#000000" stroke-width="0.4"/><path d="M511.9 126.29L512.59 128.14L514.56 128.23L513.02 129.46L513.54 131.36L511.9 130.27L510.25 131.36L510.78 129.46L509.23 128.23L511.21 128.14Z" fill="#000000" stroke="#000000" stroke-width="0.4"/><path d="M516.26 130.81L516.96 132.66L518.93 132.74L517.38 133.97L517.91 135.87L516.26 134.79L514.62 135.87L515.15 133.97L513.6 132.74L515.57 132.66Z" fill="#000000" stroke="#000000" stroke-width="0.4"/><path d="M520.63 130.85L521.32 132.7L523.29 132.79L521.75 134.01L522.28 135.92L520.63 134.83L518.99 135.92L519.51 134.01L517.97 132.79L519.94 132.7Z" fill="#000000" stroke="#000000" stroke-width="0.4"/><path d="M525 130.89L525.69 132.74L527.66 132.83L526.12 134.06L526.64 135.96L525 134.87L523.35 135.96L523.88 134.06L522.34 132.83L524.31 132.74Z" fill="#000000" stroke="#000000" stroke-width="0.4"/><path d="M529.36 130.93L530.06 132.78L532.03 132.87L530.48 134.1L531.01 136L529.36 134.91L527.72 136L528.25 134.1L526.7 132.87L528.67 132.78Z" fill="#000000" stroke="#000000" stroke-width="0.4"/><path d="M533.73 130.98L534.42 132.82L536.39 132.91L534.85 134.14L535.38 136.04L533.73 134.95L532.09 136.04L532.61 134.14L531.07 132.91L533.04 132.82Z" fill="#000000" stroke="#000000" stroke-width="0.4"/><path d="M538.1 131.02L538.79 132.87L540.76 132.95L539.22 134.18L539.74 136.08L538.1 134.99L536.45 136.08L536.98 134.18L535.44 132.95L537.41 132.87Z" fill="#000000" stroke="#000000" stroke-width="0.4"/><path d="M542.47 131.06L543.16 132.91L545.13 132.99L543.58 134.22L544.11 136.12L542.47 135.03L540.82 136.12L541.35 134.22L539.8 132.99L541.77 132.91Z" fill="#000000" stroke="#000000" stroke-width="0.4"/><path d="M546.83 131.1L547.52 132.95L549.49 133.04L547.95 134.26L548.48 136.17L546.83 135.08L545.19 136.17L545.71 134.26L544.17 133.04L546.14 132.95Z" fill="#000000" stroke="#000000" stroke-width="0.4"/><path d="M551.2 131.14L551.89 132.99L553.86 133.08L552.32 134.31L552.84 136.21L551.2 135.12L549.55 136.21L550.08 134.31L548.54 133.08L550.51 132.99Z" fill="#000000" stroke="#000000" stroke-width="0.4"/><path d="M555.57 131.18L556.26 133.03L558.23 133.12L556.68 134.35L557.21 136.25L555.57 135.16L553.92 136.25L554.45 134.35L552.9 133.12L554.87 133.03Z" fill="#000000" stroke="#000000" stroke-width="0.4"/><path d="M559.93 131.23L560.62 133.07L562.6 133.16L561.05 134.39L561.58 136.29L559.93 135.2L558.29 136.29L558.81 134.39L557.27 133.16L559.24 133.07Z" fill="#000000" stroke="#000000" stroke-width="0.4"/><path d="M564.3 131.27L564.99 133.12L566.96 133.2L565.42 134.43L565.94 136.33L564.3 135.24L562.65 136.33L563.18 134.43L561.64 133.2L563.61 133.12Z" fill="#000000" stroke="#000000" stroke-width="0.4"/><path d="M568.67 131.31L569.36 133.16L571.33 133.24L569.78 134.47L570.31 136.37L568.67 135.28L567.02 136.37L567.55 134.47L566 133.24L567.97 133.16Z" fill="#000000" stroke="#000000" stroke-width="0.4"/><path d="M573.03 131.35L573.72 133.2L575.7 133.28L574.15 134.51L574.68 136.42L573.03 135.33L571.39 136.42L571.91 134.51L570.37 133.28L572.34 133.2Z" fill="#000000" stroke="#000000" stroke-width="0.4"/><path d="M577.4 131.39L578.09 133.24L580.06 133.33L578.52 134.55L579.04 136.46L577.4 135.37L575.75 136.46L576.28 134.55L574.74 133.33L576.71 133.24Z" fill="#000000" stroke="#000000" stroke-width="0.4"/><path d="M581.77 138.48L582.46 140.33L584.43 140.42L582.88 141.65L583.41 143.55L581.77 142.46L580.12 143.55L580.65 141.65L579.1 140.42L581.07 140.33Z" fill="#000000" stroke="#000000" stroke-width="0.4"/><path d="M586.13 138.42L586.82 140.27L588.8 140.36L587.25 141.58L587.78 143.49L586.13 142.4L584.49 143.49L585.01 141.58L583.47 140.36L585.44 140.27Z" fill="#000000" stroke="#000000" stroke-width="0.4"/><path d="M590.5 138.36L591.19 140.21L593.16 140.3L591.62 141.52L592.15 143.43L590.5 142.34L588.85 143.43L589.38 141.52L587.84 140.3L589.81 140.21Z" fill="#000000" stroke="#000000" stroke-width="0.4"/><path d="M594.87 138.3L595.56 140.15L597.53 140.23L595.98 141.46L596.51 143.36L594.87 142.28L593.22 143.36L593.75 141.46L592.2 140.23L594.17 140.15Z" fill="#000000" stroke="#000000" stroke-width="0.4"/><path d="M599.23 138.24L599.92 140.09L601.9 140.17L600.35 141.4L600.88 143.3L599.23 142.21L597.59 143.3L598.11 141.4L596.57 140.17L598.54 140.09Z" fill="#000000" stroke="#000000" stroke-width="0.4"/><path d="M603.6 138.18L604.29 140.03L606.26 140.11L604.72 141.34L605.25 143.24L603.6 142.15L601.95 143.24L602.48 141.34L600.94 140.11L602.91 140.03Z" fill="#000000" stroke="#000000" stroke-width="0.4"/><path d="M607.97 138.12L608.66 139.96L610.63 140.05L609.08 141.28L609.61 143.18L607.97 142.09L606.32 143.18L606.85 141.28L605.3 140.05L607.28 139.96Z" fill="#000000" stroke="#000000" stroke-width="0.4"/><path d="M612.33 138.06L613.02 139.9L615 139.99L613.45 141.22L613.98 143.12L612.33 142.03L610.69 143.12L611.21 141.22L609.67 139.99L611.64 139.9Z" fill="#000000" stroke="#000000" stroke-width="0.4"/><path d="M616.7 138L617.39 139.85L619.36 139.93L617.82 141.16L618.35 143.07L616.7 141.98L615.05 143.07L615.58 141.16L614.04 139.93L616.01 139.85Z" fill="#000000" stroke="#000000" stroke-width="0.4"/></g><g clip-path="url(#bc)"><path d="M402 38.5L404 113L408 115.5L450 117.4L478 117.8L490 120.4L520 122L616.3 123.2" fill="none" stroke="#18f0f0" stroke-width="1.5" stroke-linejoin="round"/><path d="M402 35.6L404 38.5L402 41.4L400 38.5Z" fill="none" stroke="#00ecec" stroke-width="1.05"/><path d="M407.1 112.03L409.1 114.93L407.1 117.83L405.1 114.93Z" fill="none" stroke="#00ecec" stroke-width="1.05"/><path d="M411.46 112.76L413.46 115.66L411.46 118.56L409.46 115.66Z" fill="none" stroke="#00ecec" stroke-width="1.05"/><path d="M415.83 112.95L417.83 115.85L415.83 118.75L413.83 115.85Z" fill="none" stroke="#00ecec" stroke-width="1.05"/><path d="M420.2 113.15L422.2 116.05L420.2 118.95L418.2 116.05Z" fill="none" stroke="#00ecec" stroke-width="1.05"/><path d="M424.56 113.35L426.56 116.25L424.56 119.15L422.56 116.25Z" fill="none" stroke="#00ecec" stroke-width="1.05"/><path d="M428.93 113.55L430.93 116.45L428.93 119.35L426.93 116.45Z" fill="none" stroke="#00ecec" stroke-width="1.05"/><path d="M433.3 113.74L435.3 116.64L433.3 119.54L431.3 116.64Z" fill="none" stroke="#00ecec" stroke-width="1.05"/><path d="M437.66 113.94L439.66 116.84L437.66 119.74L435.66 116.84Z" fill="none" stroke="#00ecec" stroke-width="1.05"/><path d="M442.03 114.14L444.03 117.04L442.03 119.94L440.03 117.04Z" fill="none" stroke="#00ecec" stroke-width="1.05"/><path d="M446.4 114.34L448.4 117.24L446.4 120.14L444.4 117.24Z" fill="none" stroke="#00ecec" stroke-width="1.05"/><path d="M450.76 114.51L452.76 117.41L450.76 120.31L448.76 117.41Z" fill="none" stroke="#00ecec" stroke-width="1.05"/><path d="M455.13 114.57L457.13 117.47L455.13 120.37L453.13 117.47Z" fill="none" stroke="#00ecec" stroke-width="1.05"/><path d="M459.5 114.64L461.5 117.54L459.5 120.44L457.5 117.54Z" fill="none" stroke="#00ecec" stroke-width="1.05"/><path d="M463.86 114.7L465.86 117.6L463.86 120.5L461.86 117.6Z" fill="none" stroke="#00ecec" stroke-width="1.05"/><path d="M468.23 114.76L470.23 117.66L468.23 120.56L466.23 117.66Z" fill="none" stroke="#00ecec" stroke-width="1.05"/><path d="M472.6 114.82L474.6 117.72L472.6 120.62L470.6 117.72Z" fill="none" stroke="#00ecec" stroke-width="1.05"/><path d="M476.96 114.89L478.96 117.79L476.96 120.69L474.96 117.79Z" fill="none" stroke="#00ecec" stroke-width="1.05"/><path d="M481.33 115.62L483.33 118.52L481.33 121.42L479.33 118.52Z" fill="none" stroke="#00ecec" stroke-width="1.05"/><path d="M485.7 116.57L487.7 119.47L485.7 122.37L483.7 119.47Z" fill="none" stroke="#00ecec" stroke-width="1.05"/><path d="M490.06 117.5L492.06 120.4L490.06 123.3L488.06 120.4Z" fill="none" stroke="#00ecec" stroke-width="1.05"/><path d="M494.43 117.74L496.43 120.64L494.43 123.54L492.43 120.64Z" fill="none" stroke="#00ecec" stroke-width="1.05"/><path d="M498.8 117.97L500.8 120.87L498.8 123.77L496.8 120.87Z" fill="none" stroke="#00ecec" stroke-width="1.05"/><path d="M503.16 118.2L505.16 121.1L503.16 124L501.16 121.1Z" fill="none" stroke="#00ecec" stroke-width="1.05"/><path d="M507.53 118.43L509.53 121.33L507.53 124.23L505.53 121.33Z" fill="none" stroke="#00ecec" stroke-width="1.05"/><path d="M511.9 118.67L513.9 121.57L511.9 124.47L509.9 121.57Z" fill="none" stroke="#00ecec" stroke-width="1.05"/><path d="M516.26 118.9L518.26 121.8L516.26 124.7L514.26 121.8Z" fill="none" stroke="#00ecec" stroke-width="1.05"/><path d="M520.63 119.11L522.63 122.01L520.63 124.91L518.63 122.01Z" fill="none" stroke="#00ecec" stroke-width="1.05"/><path d="M525 119.16L527 122.06L525 124.96L523 122.06Z" fill="none" stroke="#00ecec" stroke-width="1.05"/><path d="M529.36 119.22L531.36 122.12L529.36 125.02L527.36 122.12Z" fill="none" stroke="#00ecec" stroke-width="1.05"/><path d="M533.73 119.27L535.73 122.17L533.73 125.07L531.73 122.17Z" fill="none" stroke="#00ecec" stroke-width="1.05"/><path d="M538.1 119.33L540.1 122.23L538.1 125.13L536.1 122.23Z" fill="none" stroke="#00ecec" stroke-width="1.05"/><path d="M542.47 119.38L544.47 122.28L542.47 125.18L540.47 122.28Z" fill="none" stroke="#00ecec" stroke-width="1.05"/><path d="M546.83 119.43L548.83 122.33L546.83 125.23L544.83 122.33Z" fill="none" stroke="#00ecec" stroke-width="1.05"/><path d="M551.2 119.49L553.2 122.39L551.2 125.29L549.2 122.39Z" fill="none" stroke="#00ecec" stroke-width="1.05"/><path d="M555.57 119.54L557.57 122.44L555.57 125.34L553.57 122.44Z" fill="none" stroke="#00ecec" stroke-width="1.05"/><path d="M559.93 119.6L561.93 122.5L559.93 125.4L557.93 122.5Z" fill="none" stroke="#00ecec" stroke-width="1.05"/><path d="M564.3 119.65L566.3 122.55L564.3 125.45L562.3 122.55Z" fill="none" stroke="#00ecec" stroke-width="1.05"/><path d="M568.67 119.71L570.67 122.61L568.67 125.51L566.67 122.61Z" fill="none" stroke="#00ecec" stroke-width="1.05"/><path d="M573.03 119.76L575.03 122.66L573.03 125.56L571.03 122.66Z" fill="none" stroke="#00ecec" stroke-width="1.05"/><path d="M577.4 119.82L579.4 122.72L577.4 125.62L575.4 122.72Z" fill="none" stroke="#00ecec" stroke-width="1.05"/><path d="M581.77 119.87L583.77 122.77L581.77 125.67L579.77 122.77Z" fill="none" stroke="#00ecec" stroke-width="1.05"/><path d="M586.13 119.92L588.13 122.82L586.13 125.72L584.13 122.82Z" fill="none" stroke="#00ecec" stroke-width="1.05"/><path d="M590.5 119.98L592.5 122.88L590.5 125.78L588.5 122.88Z" fill="none" stroke="#00ecec" stroke-width="1.05"/><path d="M594.87 120.03L596.87 122.93L594.87 125.83L592.87 122.93Z" fill="none" stroke="#00ecec" stroke-width="1.05"/><path d="M599.23 120.09L601.23 122.99L599.23 125.89L597.23 122.99Z" fill="none" stroke="#00ecec" stroke-width="1.05"/><path d="M603.6 120.14L605.6 123.04L603.6 125.94L601.6 123.04Z" fill="none" stroke="#00ecec" stroke-width="1.05"/><path d="M607.97 120.2L609.97 123.1L607.97 126L605.97 123.1Z" fill="none" stroke="#00ecec" stroke-width="1.05"/><path d="M612.33 120.25L614.33 123.15L612.33 126.05L610.33 123.15Z" fill="none" stroke="#00ecec" stroke-width="1.05"/><path d="M616.7 120.3L618.7 123.2L616.7 126.1L614.7 123.2Z" fill="none" stroke="#00ecec" stroke-width="1.05"/></g><g clip-path="url(#bc)"><path d="M402 33L405 96L410 97L616.3 97" fill="none" stroke="#10ee10" stroke-width="1.5" stroke-linejoin="round"/><path d="M400.5 31.5L403.5 34.5M400.5 34.5L403.5 31.5" stroke="#00e400" stroke-width="1.05"/><path d="M405.6 94.92L408.6 97.92M405.6 97.92L408.6 94.92" stroke="#00e400" stroke-width="1.05"/><path d="M409.96 95.5L412.96 98.5M409.96 98.5L412.96 95.5" stroke="#00e400" stroke-width="1.05"/><path d="M414.33 95.5L417.33 98.5M414.33 98.5L417.33 95.5" stroke="#00e400" stroke-width="1.05"/><path d="M418.7 95.5L421.7 98.5M418.7 98.5L421.7 95.5" stroke="#00e400" stroke-width="1.05"/><path d="M423.06 95.5L426.06 98.5M423.06 98.5L426.06 95.5" stroke="#00e400" stroke-width="1.05"/><path d="M427.43 95.5L430.43 98.5M427.43 98.5L430.43 95.5" stroke="#00e400" stroke-width="1.05"/><path d="M431.8 95.5L434.8 98.5M431.8 98.5L434.8 95.5" stroke="#00e400" stroke-width="1.05"/><path d="M436.16 95.5L439.16 98.5M436.16 98.5L439.16 95.5" stroke="#00e400" stroke-width="1.05"/><path d="M440.53 95.5L443.53 98.5M440.53 98.5L443.53 95.5" stroke="#00e400" stroke-width="1.05"/><path d="M444.9 95.5L447.9 98.5M444.9 98.5L447.9 95.5" stroke="#00e400" stroke-width="1.05"/><path d="M449.26 95.5L452.26 98.5M449.26 98.5L452.26 95.5" stroke="#00e400" stroke-width="1.05"/><path d="M453.63 95.5L456.63 98.5M453.63 98.5L456.63 95.5" stroke="#00e400" stroke-width="1.05"/><path d="M458 95.5L461 98.5M458 98.5L461 95.5" stroke="#00e400" stroke-width="1.05"/><path d="M462.36 95.5L465.36 98.5M462.36 98.5L465.36 95.5" stroke="#00e400" stroke-width="1.05"/><path d="M466.73 95.5L469.73 98.5M466.73 98.5L469.73 95.5" stroke="#00e400" stroke-width="1.05"/><path d="M471.1 95.5L474.1 98.5M471.1 98.5L474.1 95.5" stroke="#00e400" stroke-width="1.05"/><path d="M475.46 95.5L478.46 98.5M475.46 98.5L478.46 95.5" stroke="#00e400" stroke-width="1.05"/><path d="M479.83 95.5L482.83 98.5M479.83 98.5L482.83 95.5" stroke="#00e400" stroke-width="1.05"/><path d="M484.2 95.5L487.2 98.5M484.2 98.5L487.2 95.5" stroke="#00e400" stroke-width="1.05"/><path d="M488.56 95.5L491.56 98.5M488.56 98.5L491.56 95.5" stroke="#00e400" stroke-width="1.05"/><path d="M492.93 95.5L495.93 98.5M492.93 98.5L495.93 95.5" stroke="#00e400" stroke-width="1.05"/><path d="M497.3 95.5L500.3 98.5M497.3 98.5L500.3 95.5" stroke="#00e400" stroke-width="1.05"/><path d="M501.66 95.5L504.66 98.5M501.66 98.5L504.66 95.5" stroke="#00e400" stroke-width="1.05"/><path d="M506.03 95.5L509.03 98.5M506.03 98.5L509.03 95.5" stroke="#00e400" stroke-width="1.05"/><path d="M510.4 95.5L513.4 98.5M510.4 98.5L513.4 95.5" stroke="#00e400" stroke-width="1.05"/><path d="M514.76 95.5L517.76 98.5M514.76 98.5L517.76 95.5" stroke="#00e400" stroke-width="1.05"/><path d="M519.13 95.5L522.13 98.5M519.13 98.5L522.13 95.5" stroke="#00e400" stroke-width="1.05"/><path d="M523.5 95.5L526.5 98.5M523.5 98.5L526.5 95.5" stroke="#00e400" stroke-width="1.05"/><path d="M527.86 95.5L530.86 98.5M527.86 98.5L530.86 95.5" stroke="#00e400" stroke-width="1.05"/><path d="M532.23 95.5L535.23 98.5M532.23 98.5L535.23 95.5" stroke="#00e400" stroke-width="1.05"/><path d="M536.6 95.5L539.6 98.5M536.6 98.5L539.6 95.5" stroke="#00e400" stroke-width="1.05"/><path d="M540.97 95.5L543.97 98.5M540.97 98.5L543.97 95.5" stroke="#00e400" stroke-width="1.05"/><path d="M545.33 95.5L548.33 98.5M545.33 98.5L548.33 95.5" stroke="#00e400" stroke-width="1.05"/><path d="M549.7 95.5L552.7 98.5M549.7 98.5L552.7 95.5" stroke="#00e400" stroke-width="1.05"/><path d="M554.07 95.5L557.07 98.5M554.07 98.5L557.07 95.5" stroke="#00e400" stroke-width="1.05"/><path d="M558.43 95.5L561.43 98.5M558.43 98.5L561.43 95.5" stroke="#00e400" stroke-width="1.05"/><path d="M562.8 95.5L565.8 98.5M562.8 98.5L565.8 95.5" stroke="#00e400" stroke-width="1.05"/><path d="M567.17 95.5L570.17 98.5M567.17 98.5L570.17 95.5" stroke="#00e400" stroke-width="1.05"/><path d="M571.53 95.5L574.53 98.5M571.53 98.5L574.53 95.5" stroke="#00e400" stroke-width="1.05"/><path d="M575.9 95.5L578.9 98.5M575.9 98.5L578.9 95.5" stroke="#00e400" stroke-width="1.05"/><path d="M580.27 95.5L583.27 98.5M580.27 98.5L583.27 95.5" stroke="#00e400" stroke-width="1.05"/><path d="M584.63 95.5L587.63 98.5M584.63 98.5L587.63 95.5" stroke="#00e400" stroke-width="1.05"/><path d="M589 95.5L592 98.5M589 98.5L592 95.5" stroke="#00e400" stroke-width="1.05"/><path d="M593.37 95.5L596.37 98.5M593.37 98.5L596.37 95.5" stroke="#00e400" stroke-width="1.05"/><path d="M597.73 95.5L600.73 98.5M597.73 98.5L600.73 95.5" stroke="#00e400" stroke-width="1.05"/><path d="M602.1 95.5L605.1 98.5M602.1 98.5L605.1 95.5" stroke="#00e400" stroke-width="1.05"/><path d="M606.47 95.5L609.47 98.5M606.47 98.5L609.47 95.5" stroke="#00e400" stroke-width="1.05"/><path d="M610.83 95.5L613.83 98.5M610.83 98.5L613.83 95.5" stroke="#00e400" stroke-width="1.05"/><path d="M615.2 95.5L618.2 98.5M615.2 98.5L618.2 95.5" stroke="#00e400" stroke-width="1.05"/></g><g clip-path="url(#bc)"><path d="M402 71.3L407.1 83.8L409.5 97.3L421 98L424 104.2L427.2 115.4L436 119.5L440 121L490 122.5L494 124L498.5 126.5L502 137.2L505 138.8L600 139.5L601.5 144.7L616.3 144.7" fill="none" stroke="#1c1cd0" stroke-width="1.5" stroke-linejoin="round"/><path d="M402 68.7L402.78 69.95L404.25 70L403.56 71.3L404.25 72.6L402.78 72.65L402 73.9L401.22 72.65L399.75 72.6L400.44 71.3L399.75 70L401.22 69.95Z" fill="#0000e0" stroke="#0000e0" stroke-width="0.4"/><path d="M407.1 81.19L407.88 82.44L409.35 82.49L408.66 83.79L409.35 85.09L407.88 85.14L407.1 86.39L406.32 85.14L404.84 85.09L405.54 83.79L404.84 82.49L406.32 82.44Z" fill="#0000e0" stroke="#0000e0" stroke-width="0.4"/><path d="M411.46 94.82L412.24 96.07L413.71 96.12L413.02 97.42L413.71 98.72L412.24 98.77L411.46 100.02L410.68 98.77L409.21 98.72L409.9 97.42L409.21 96.12L410.68 96.07Z" fill="#0000e0" stroke="#0000e0" stroke-width="0.4"/><path d="M415.83 95.09L416.61 96.33L418.08 96.39L417.39 97.69L418.08 98.99L416.61 99.04L415.83 100.29L415.05 99.04L413.58 98.99L414.27 97.69L413.58 96.39L415.05 96.33Z" fill="#0000e0" stroke="#0000e0" stroke-width="0.4"/><path d="M420.2 95.35L420.98 96.6L422.45 96.65L421.76 97.95L422.45 99.25L420.98 99.3L420.2 100.55L419.42 99.3L417.94 99.25L418.64 97.95L417.94 96.65L419.42 96.6Z" fill="#0000e0" stroke="#0000e0" stroke-width="0.4"/><path d="M424.56 103.57L425.34 104.82L426.81 104.87L426.12 106.17L426.81 107.47L425.34 107.52L424.56 108.77L423.78 107.52L422.31 107.47L423 106.17L422.31 104.87L423.78 104.82Z" fill="#0000e0" stroke="#0000e0" stroke-width="0.4"/><path d="M428.93 113.61L429.71 114.85L431.18 114.91L430.49 116.21L431.18 117.51L429.71 117.56L428.93 118.81L428.15 117.56L426.68 117.51L427.37 116.21L426.68 114.91L428.15 114.85Z" fill="#0000e0" stroke="#0000e0" stroke-width="0.4"/><path d="M433.3 115.64L434.08 116.89L435.55 116.94L434.86 118.24L435.55 119.54L434.08 119.59L433.3 120.84L432.52 119.59L431.04 119.54L431.74 118.24L431.04 116.94L432.52 116.89Z" fill="#0000e0" stroke="#0000e0" stroke-width="0.4"/><path d="M437.66 117.52L438.44 118.77L439.91 118.82L439.22 120.12L439.91 121.42L438.44 121.47L437.66 122.72L436.88 121.47L435.41 121.42L436.1 120.12L435.41 118.82L436.88 118.77Z" fill="#0000e0" stroke="#0000e0" stroke-width="0.4"/><path d="M442.03 118.46L442.81 119.71L444.28 119.76L443.59 121.06L444.28 122.36L442.81 122.41L442.03 123.66L441.25 122.41L439.78 122.36L440.47 121.06L439.78 119.76L441.25 119.71Z" fill="#0000e0" stroke="#0000e0" stroke-width="0.4"/><path d="M446.4 118.59L447.18 119.84L448.65 119.89L447.96 121.19L448.65 122.49L447.18 122.54L446.4 123.79L445.62 122.54L444.14 122.49L444.84 121.19L444.14 119.89L445.62 119.84Z" fill="#0000e0" stroke="#0000e0" stroke-width="0.4"/><path d="M450.76 118.72L451.54 119.97L453.01 120.02L452.32 121.32L453.01 122.62L451.54 122.67L450.76 123.92L449.98 122.67L448.51 122.62L449.2 121.32L448.51 120.02L449.98 119.97Z" fill="#0000e0" stroke="#0000e0" stroke-width="0.4"/><path d="M455.13 118.85L455.91 120.1L457.38 120.15L456.69 121.45L457.38 122.75L455.91 122.8L455.13 124.05L454.35 122.8L452.88 122.75L453.57 121.45L452.88 120.15L454.35 120.1Z" fill="#0000e0" stroke="#0000e0" stroke-width="0.4"/><path d="M459.5 118.98L460.28 120.23L461.75 120.28L461.06 121.58L461.75 122.88L460.28 122.94L459.5 124.18L458.72 122.94L457.25 122.88L457.94 121.58L457.25 120.28L458.72 120.23Z" fill="#0000e0" stroke="#0000e0" stroke-width="0.4"/><path d="M463.86 119.12L464.64 120.36L466.12 120.42L465.42 121.72L466.12 123.02L464.64 123.07L463.86 124.32L463.08 123.07L461.61 123.02L462.3 121.72L461.61 120.42L463.08 120.36Z" fill="#0000e0" stroke="#0000e0" stroke-width="0.4"/><path d="M468.23 119.25L469.01 120.5L470.48 120.55L469.79 121.85L470.48 123.15L469.01 123.2L468.23 124.45L467.45 123.2L465.98 123.15L466.67 121.85L465.98 120.55L467.45 120.5Z" fill="#0000e0" stroke="#0000e0" stroke-width="0.4"/><path d="M472.6 119.38L473.38 120.63L474.85 120.68L474.16 121.98L474.85 123.28L473.38 123.33L472.6 124.58L471.82 123.33L470.35 123.28L471.04 121.98L470.35 120.68L471.82 120.63Z" fill="#0000e0" stroke="#0000e0" stroke-width="0.4"/><path d="M476.96 119.51L477.74 120.76L479.22 120.81L478.52 122.11L479.22 123.41L477.74 123.46L476.96 124.71L476.18 123.46L474.71 123.41L475.4 122.11L474.71 120.81L476.18 120.76Z" fill="#0000e0" stroke="#0000e0" stroke-width="0.4"/><path d="M481.33 119.64L482.11 120.89L483.58 120.94L482.89 122.24L483.58 123.54L482.11 123.59L481.33 124.84L480.55 123.59L479.08 123.54L479.77 122.24L479.08 120.94L480.55 120.89Z" fill="#0000e0" stroke="#0000e0" stroke-width="0.4"/><path d="M485.7 119.77L486.48 121.02L487.95 121.07L487.26 122.37L487.95 123.67L486.48 123.72L485.7 124.97L484.92 123.72L483.45 123.67L484.14 122.37L483.45 121.07L484.92 121.02Z" fill="#0000e0" stroke="#0000e0" stroke-width="0.4"/><path d="M490.06 119.92L490.84 121.17L492.32 121.22L491.62 122.52L492.32 123.82L490.84 123.87L490.06 125.12L489.28 123.87L487.81 123.82L488.5 122.52L487.81 121.22L489.28 121.17Z" fill="#0000e0" stroke="#0000e0" stroke-width="0.4"/><path d="M494.43 121.64L495.21 122.89L496.68 122.94L495.99 124.24L496.68 125.54L495.21 125.59L494.43 126.84L493.65 125.59L492.18 125.54L492.87 124.24L492.18 122.94L493.65 122.89Z" fill="#0000e0" stroke="#0000e0" stroke-width="0.4"/><path d="M498.8 124.81L499.58 126.06L501.05 126.11L500.36 127.41L501.05 128.71L499.58 128.76L498.8 130.01L498.02 128.76L496.55 128.71L497.24 127.41L496.55 126.11L498.02 126.06Z" fill="#0000e0" stroke="#0000e0" stroke-width="0.4"/><path d="M503.16 135.22L503.94 136.47L505.42 136.52L504.72 137.82L505.42 139.12L503.94 139.17L503.16 140.42L502.38 139.17L500.91 139.12L501.6 137.82L500.91 136.52L502.38 136.47Z" fill="#0000e0" stroke="#0000e0" stroke-width="0.4"/><path d="M507.53 136.22L508.31 137.47L509.78 137.52L509.09 138.82L509.78 140.12L508.31 140.17L507.53 141.42L506.75 140.17L505.28 140.12L505.97 138.82L505.28 137.52L506.75 137.47Z" fill="#0000e0" stroke="#0000e0" stroke-width="0.4"/><path d="M511.9 136.25L512.68 137.5L514.15 137.55L513.46 138.85L514.15 140.15L512.68 140.2L511.9 141.45L511.12 140.2L509.65 140.15L510.34 138.85L509.65 137.55L511.12 137.5Z" fill="#0000e0" stroke="#0000e0" stroke-width="0.4"/><path d="M516.26 136.28L517.04 137.53L518.52 137.58L517.82 138.88L518.52 140.18L517.04 140.23L516.26 141.48L515.48 140.23L514.01 140.18L514.7 138.88L514.01 137.58L515.48 137.53Z" fill="#0000e0" stroke="#0000e0" stroke-width="0.4"/><path d="M520.63 136.32L521.41 137.56L522.88 137.62L522.19 138.92L522.88 140.22L521.41 140.27L520.63 141.52L519.85 140.27L518.38 140.22L519.07 138.92L518.38 137.62L519.85 137.56Z" fill="#0000e0" stroke="#0000e0" stroke-width="0.4"/><path d="M525 136.35L525.78 137.6L527.25 137.65L526.56 138.95L527.25 140.25L525.78 140.3L525 141.55L524.22 140.3L522.75 140.25L523.44 138.95L522.75 137.65L524.22 137.6Z" fill="#0000e0" stroke="#0000e0" stroke-width="0.4"/><path d="M529.36 136.38L530.14 137.63L531.62 137.68L530.92 138.98L531.62 140.28L530.14 140.33L529.36 141.58L528.58 140.33L527.11 140.28L527.8 138.98L527.11 137.68L528.58 137.63Z" fill="#0000e0" stroke="#0000e0" stroke-width="0.4"/><path d="M533.73 136.41L534.51 137.66L535.98 137.71L535.29 139.01L535.98 140.31L534.51 140.36L533.73 141.61L532.95 140.36L531.48 140.31L532.17 139.01L531.48 137.71L532.95 137.66Z" fill="#0000e0" stroke="#0000e0" stroke-width="0.4"/><path d="M538.1 136.44L538.88 137.69L540.35 137.74L539.66 139.04L540.35 140.34L538.88 140.39L538.1 141.64L537.32 140.39L535.85 140.34L536.54 139.04L535.85 137.74L537.32 137.69Z" fill="#0000e0" stroke="#0000e0" stroke-width="0.4"/><path d="M542.47 136.48L543.25 137.73L544.72 137.78L544.03 139.08L544.72 140.38L543.25 140.43L542.47 141.68L541.69 140.43L540.21 140.38L540.91 139.08L540.21 137.78L541.69 137.73Z" fill="#0000e0" stroke="#0000e0" stroke-width="0.4"/><path d="M546.83 136.51L547.61 137.76L549.08 137.81L548.39 139.11L549.08 140.41L547.61 140.46L546.83 141.71L546.05 140.46L544.58 140.41L545.27 139.11L544.58 137.81L546.05 137.76Z" fill="#0000e0" stroke="#0000e0" stroke-width="0.4"/><path d="M551.2 136.54L551.98 137.79L553.45 137.84L552.76 139.14L553.45 140.44L551.98 140.49L551.2 141.74L550.42 140.49L548.95 140.44L549.64 139.14L548.95 137.84L550.42 137.79Z" fill="#0000e0" stroke="#0000e0" stroke-width="0.4"/><path d="M555.57 136.57L556.35 137.82L557.82 137.87L557.13 139.17L557.82 140.47L556.35 140.52L555.57 141.77L554.79 140.52L553.31 140.47L554.01 139.17L553.31 137.87L554.79 137.82Z" fill="#0000e0" stroke="#0000e0" stroke-width="0.4"/><path d="M559.93 136.6L560.71 137.85L562.18 137.9L561.49 139.2L562.18 140.5L560.71 140.56L559.93 141.8L559.15 140.56L557.68 140.5L558.37 139.2L557.68 137.9L559.15 137.85Z" fill="#0000e0" stroke="#0000e0" stroke-width="0.4"/><path d="M564.3 136.64L565.08 137.89L566.55 137.94L565.86 139.24L566.55 140.54L565.08 140.59L564.3 141.84L563.52 140.59L562.05 140.54L562.74 139.24L562.05 137.94L563.52 137.89Z" fill="#0000e0" stroke="#0000e0" stroke-width="0.4"/><path d="M568.67 136.67L569.45 137.92L570.92 137.97L570.23 139.27L570.92 140.57L569.45 140.62L568.67 141.87L567.89 140.62L566.41 140.57L567.11 139.27L566.41 137.97L567.89 137.92Z" fill="#0000e0" stroke="#0000e0" stroke-width="0.4"/><path d="M573.03 136.7L573.81 137.95L575.28 138L574.59 139.3L575.28 140.6L573.81 140.65L573.03 141.9L572.25 140.65L570.78 140.6L571.47 139.3L570.78 138L572.25 137.95Z" fill="#0000e0" stroke="#0000e0" stroke-width="0.4"/><path d="M577.4 136.73L578.18 137.98L579.65 138.03L578.96 139.33L579.65 140.63L578.18 140.68L577.4 141.93L576.62 140.68L575.15 140.63L575.84 139.33L575.15 138.03L576.62 137.98Z" fill="#0000e0" stroke="#0000e0" stroke-width="0.4"/><path d="M581.77 136.77L582.55 138.01L584.02 138.07L583.33 139.37L584.02 140.67L582.55 140.72L581.77 141.97L580.99 140.72L579.51 140.67L580.21 139.37L579.51 138.07L580.99 138.01Z" fill="#0000e0" stroke="#0000e0" stroke-width="0.4"/><path d="M586.13 136.8L586.91 138.05L588.38 138.1L587.69 139.4L588.38 140.7L586.91 140.75L586.13 142L585.35 140.75L583.88 140.7L584.57 139.4L583.88 138.1L585.35 138.05Z" fill="#0000e0" stroke="#0000e0" stroke-width="0.4"/><path d="M590.5 136.83L591.28 138.08L592.75 138.13L592.06 139.43L592.75 140.73L591.28 140.78L590.5 142.03L589.72 140.78L588.25 140.73L588.94 139.43L588.25 138.13L589.72 138.08Z" fill="#0000e0" stroke="#0000e0" stroke-width="0.4"/><path d="M594.87 136.86L595.65 138.11L597.12 138.16L596.43 139.46L597.12 140.76L595.65 140.81L594.87 142.06L594.09 140.81L592.61 140.76L593.31 139.46L592.61 138.16L594.09 138.11Z" fill="#0000e0" stroke="#0000e0" stroke-width="0.4"/><path d="M599.23 136.89L600.01 138.14L601.48 138.19L600.79 139.49L601.48 140.79L600.01 140.85L599.23 142.09L598.45 140.85L596.98 140.79L597.67 139.49L596.98 138.19L598.45 138.14Z" fill="#0000e0" stroke="#0000e0" stroke-width="0.4"/><path d="M603.6 142.1L604.38 143.35L605.85 143.4L605.16 144.7L605.85 146L604.38 146.05L603.6 147.3L602.82 146.05L601.35 146L602.04 144.7L601.35 143.4L602.82 143.35Z" fill="#0000e0" stroke="#0000e0" stroke-width="0.4"/><path d="M607.97 142.1L608.75 143.35L610.22 143.4L609.53 144.7L610.22 146L608.75 146.05L607.97 147.3L607.19 146.05L605.71 146L606.41 144.7L605.71 143.4L607.19 143.35Z" fill="#0000e0" stroke="#0000e0" stroke-width="0.4"/><path d="M612.33 142.1L613.11 143.35L614.58 143.4L613.89 144.7L614.58 146L613.11 146.05L612.33 147.3L611.55 146.05L610.08 146L610.77 144.7L610.08 143.4L611.55 143.35Z" fill="#0000e0" stroke="#0000e0" stroke-width="0.4"/><path d="M616.7 142.1L617.48 143.35L618.95 143.4L618.26 144.7L618.95 146L617.48 146.05L616.7 147.3L615.92 146.05L614.45 146L615.14 144.7L614.45 143.4L615.92 143.35Z" fill="#0000e0" stroke="#0000e0" stroke-width="0.4"/></g><g clip-path="url(#bc)"><path d="M402 78.2L406 103L408.5 108L412 111L466 112.5L470.4 114.1L479.6 119L489.5 121L494 135L498.9 135L502.4 145.6L616.3 146.3" fill="none" stroke="#111111" stroke-width="1.5" stroke-linejoin="round"/><path d="M399.8 78.2L404.2 78.2M402 76L402 80.4" stroke="#000000" stroke-width="1.05"/><path d="M404.9 105.19L409.3 105.19M407.1 102.99L407.1 107.39" stroke="#000000" stroke-width="1.05"/><path d="M409.26 110.54L413.66 110.54M411.46 108.34L411.46 112.74" stroke="#000000" stroke-width="1.05"/><path d="M413.63 111.11L418.03 111.11M415.83 108.91L415.83 113.31" stroke="#000000" stroke-width="1.05"/><path d="M418 111.23L422.4 111.23M420.2 109.03L420.2 113.43" stroke="#000000" stroke-width="1.05"/><path d="M422.36 111.35L426.76 111.35M424.56 109.15L424.56 113.55" stroke="#000000" stroke-width="1.05"/><path d="M426.73 111.47L431.13 111.47M428.93 109.27L428.93 113.67" stroke="#000000" stroke-width="1.05"/><path d="M431.1 111.59L435.5 111.59M433.3 109.39L433.3 113.79" stroke="#000000" stroke-width="1.05"/><path d="M435.46 111.71L439.86 111.71M437.66 109.51L437.66 113.91" stroke="#000000" stroke-width="1.05"/><path d="M439.83 111.83L444.23 111.83M442.03 109.63L442.03 114.03" stroke="#000000" stroke-width="1.05"/><path d="M444.2 111.96L448.6 111.96M446.4 109.76L446.4 114.16" stroke="#000000" stroke-width="1.05"/><path d="M448.56 112.08L452.96 112.08M450.76 109.88L450.76 114.28" stroke="#000000" stroke-width="1.05"/><path d="M452.93 112.2L457.33 112.2M455.13 110L455.13 114.4" stroke="#000000" stroke-width="1.05"/><path d="M457.3 112.32L461.7 112.32M459.5 110.12L459.5 114.52" stroke="#000000" stroke-width="1.05"/><path d="M461.66 112.44L466.06 112.44M463.86 110.24L463.86 114.64" stroke="#000000" stroke-width="1.05"/><path d="M466.03 113.31L470.43 113.31M468.23 111.11L468.23 115.51" stroke="#000000" stroke-width="1.05"/><path d="M470.4 115.27L474.8 115.27M472.6 113.07L472.6 117.47" stroke="#000000" stroke-width="1.05"/><path d="M474.76 117.6L479.16 117.6M476.96 115.4L476.96 119.8" stroke="#000000" stroke-width="1.05"/><path d="M479.13 119.35L483.53 119.35M481.33 117.15L481.33 121.55" stroke="#000000" stroke-width="1.05"/><path d="M483.5 120.23L487.9 120.23M485.7 118.03L485.7 122.43" stroke="#000000" stroke-width="1.05"/><path d="M487.86 122.75L492.26 122.75M490.06 120.55L490.06 124.95" stroke="#000000" stroke-width="1.05"/><path d="M492.23 135L496.63 135M494.43 132.8L494.43 137.2" stroke="#000000" stroke-width="1.05"/><path d="M496.6 135L501 135M498.8 132.8L498.8 137.2" stroke="#000000" stroke-width="1.05"/><path d="M500.96 145.6L505.36 145.6M503.16 143.4L503.16 147.8" stroke="#000000" stroke-width="1.05"/><path d="M505.33 145.63L509.73 145.63M507.53 143.43L507.53 147.83" stroke="#000000" stroke-width="1.05"/><path d="M509.7 145.66L514.1 145.66M511.9 143.46L511.9 147.86" stroke="#000000" stroke-width="1.05"/><path d="M514.06 145.69L518.46 145.69M516.26 143.49L516.26 147.89" stroke="#000000" stroke-width="1.05"/><path d="M518.43 145.71L522.83 145.71M520.63 143.51L520.63 147.91" stroke="#000000" stroke-width="1.05"/><path d="M522.8 145.74L527.2 145.74M525 143.54L525 147.94" stroke="#000000" stroke-width="1.05"/><path d="M527.16 145.77L531.56 145.77M529.36 143.57L529.36 147.97" stroke="#000000" stroke-width="1.05"/><path d="M531.53 145.79L535.93 145.79M533.73 143.59L533.73 147.99" stroke="#000000" stroke-width="1.05"/><path d="M535.9 145.82L540.3 145.82M538.1 143.62L538.1 148.02" stroke="#000000" stroke-width="1.05"/><path d="M540.27 145.85L544.67 145.85M542.47 143.65L542.47 148.05" stroke="#000000" stroke-width="1.05"/><path d="M544.63 145.87L549.03 145.87M546.83 143.67L546.83 148.07" stroke="#000000" stroke-width="1.05"/><path d="M549 145.9L553.4 145.9M551.2 143.7L551.2 148.1" stroke="#000000" stroke-width="1.05"/><path d="M553.37 145.93L557.77 145.93M555.57 143.73L555.57 148.13" stroke="#000000" stroke-width="1.05"/><path d="M557.73 145.95L562.13 145.95M559.93 143.75L559.93 148.15" stroke="#000000" stroke-width="1.05"/><path d="M562.1 145.98L566.5 145.98M564.3 143.78L564.3 148.18" stroke="#000000" stroke-width="1.05"/><path d="M566.47 146.01L570.87 146.01M568.67 143.81L568.67 148.21" stroke="#000000" stroke-width="1.05"/><path d="M570.83 146.03L575.23 146.03M573.03 143.83L573.03 148.23" stroke="#000000" stroke-width="1.05"/><path d="M575.2 146.06L579.6 146.06M577.4 143.86L577.4 148.26" stroke="#000000" stroke-width="1.05"/><path d="M579.57 146.09L583.97 146.09M581.77 143.89L581.77 148.29" stroke="#000000" stroke-width="1.05"/><path d="M583.93 146.11L588.33 146.11M586.13 143.91L586.13 148.31" stroke="#000000" stroke-width="1.05"/><path d="M588.3 146.14L592.7 146.14M590.5 143.94L590.5 148.34" stroke="#000000" stroke-width="1.05"/><path d="M592.67 146.17L597.07 146.17M594.87 143.97L594.87 148.37" stroke="#000000" stroke-width="1.05"/><path d="M597.03 146.2L601.43 146.2M599.23 144L599.23 148.4" stroke="#000000" stroke-width="1.05"/><path d="M601.4 146.22L605.8 146.22M603.6 144.02L603.6 148.42" stroke="#000000" stroke-width="1.05"/><path d="M605.77 146.25L610.17 146.25M607.97 144.05L607.97 148.45" stroke="#000000" stroke-width="1.05"/><path d="M610.13 146.28L614.53 146.28M612.33 144.08L612.33 148.48" stroke="#000000" stroke-width="1.05"/><path d="M614.5 146.3L618.9 146.3M616.7 144.1L616.7 148.5" stroke="#000000" stroke-width="1.05"/></g><g clip-path="url(#bc)"><path d="M403 22.5L405 95L406 110.4L407.5 125L410.4 136.6L442 136.8L446.5 139L449.3 142.1L458 142.2L466.6 142.5L471.6 148.9L475.9 153.3L480.9 155.7L485 156.5L616.3 156.6" fill="none" stroke="#e01818" stroke-width="1.5" stroke-linejoin="round"/><path d="M400.6 20.1L405.4 22.5L400.6 24.9Z" fill="none" stroke="#f00808" stroke-width="1.05"/><path d="M404.7 118.66L409.5 121.06L404.7 123.46Z" fill="none" stroke="#f00808" stroke-width="1.05"/><path d="M409.06 134.21L413.86 136.61L409.06 139.01Z" fill="none" stroke="#f00808" stroke-width="1.05"/><path d="M413.43 134.23L418.23 136.63L413.43 139.03Z" fill="none" stroke="#f00808" stroke-width="1.05"/><path d="M417.8 134.26L422.6 136.66L417.8 139.06Z" fill="none" stroke="#f00808" stroke-width="1.05"/><path d="M422.16 134.29L426.96 136.69L422.16 139.09Z" fill="none" stroke="#f00808" stroke-width="1.05"/><path d="M426.53 134.32L431.33 136.72L426.53 139.12Z" fill="none" stroke="#f00808" stroke-width="1.05"/><path d="M430.9 134.34L435.7 136.74L430.9 139.14Z" fill="none" stroke="#f00808" stroke-width="1.05"/><path d="M435.26 134.37L440.06 136.77L435.26 139.17Z" fill="none" stroke="#f00808" stroke-width="1.05"/><path d="M439.63 134.41L444.43 136.81L439.63 139.21Z" fill="none" stroke="#f00808" stroke-width="1.05"/><path d="M444 136.55L448.8 138.95L444 141.35Z" fill="none" stroke="#f00808" stroke-width="1.05"/><path d="M448.36 139.72L453.16 142.12L448.36 144.52Z" fill="none" stroke="#f00808" stroke-width="1.05"/><path d="M452.73 139.77L457.53 142.17L452.73 144.57Z" fill="none" stroke="#f00808" stroke-width="1.05"/><path d="M457.1 139.85L461.9 142.25L457.1 144.65Z" fill="none" stroke="#f00808" stroke-width="1.05"/><path d="M461.46 140L466.26 142.4L461.46 144.8Z" fill="none" stroke="#f00808" stroke-width="1.05"/><path d="M465.83 142.19L470.63 144.59L465.83 146.99Z" fill="none" stroke="#f00808" stroke-width="1.05"/><path d="M470.2 147.52L475 149.92L470.2 152.32Z" fill="none" stroke="#f00808" stroke-width="1.05"/><path d="M474.56 151.41L479.36 153.81L474.56 156.21Z" fill="none" stroke="#f00808" stroke-width="1.05"/><path d="M478.93 153.38L483.73 155.78L478.93 158.18Z" fill="none" stroke="#f00808" stroke-width="1.05"/><path d="M483.3 154.1L488.1 156.5L483.3 158.9Z" fill="none" stroke="#f00808" stroke-width="1.05"/><path d="M487.66 154.1L492.46 156.5L487.66 158.9Z" fill="none" stroke="#f00808" stroke-width="1.05"/><path d="M492.03 154.11L496.83 156.51L492.03 158.91Z" fill="none" stroke="#f00808" stroke-width="1.05"/><path d="M496.4 154.11L501.2 156.51L496.4 158.91Z" fill="none" stroke="#f00808" stroke-width="1.05"/><path d="M500.76 154.11L505.56 156.51L500.76 158.91Z" fill="none" stroke="#f00808" stroke-width="1.05"/><path d="M505.13 154.12L509.93 156.52L505.13 158.92Z" fill="none" stroke="#f00808" stroke-width="1.05"/><path d="M509.5 154.12L514.3 156.52L509.5 158.92Z" fill="none" stroke="#f00808" stroke-width="1.05"/><path d="M513.86 154.12L518.66 156.52L513.86 158.92Z" fill="none" stroke="#f00808" stroke-width="1.05"/><path d="M518.23 154.13L523.03 156.53L518.23 158.93Z" fill="none" stroke="#f00808" stroke-width="1.05"/><path d="M522.6 154.13L527.4 156.53L522.6 158.93Z" fill="none" stroke="#f00808" stroke-width="1.05"/><path d="M526.96 154.13L531.76 156.53L526.96 158.93Z" fill="none" stroke="#f00808" stroke-width="1.05"/><path d="M531.33 154.14L536.13 156.54L531.33 158.94Z" fill="none" stroke="#f00808" stroke-width="1.05"/><path d="M535.7 154.14L540.5 156.54L535.7 158.94Z" fill="none" stroke="#f00808" stroke-width="1.05"/><path d="M540.07 154.14L544.87 156.54L540.07 158.94Z" fill="none" stroke="#f00808" stroke-width="1.05"/><path d="M544.43 154.15L549.23 156.55L544.43 158.95Z" fill="none" stroke="#f00808" stroke-width="1.05"/><path d="M548.8 154.15L553.6 156.55L548.8 158.95Z" fill="none" stroke="#f00808" stroke-width="1.05"/><path d="M553.17 154.15L557.97 156.55L553.17 158.95Z" fill="none" stroke="#f00808" stroke-width="1.05"/><path d="M557.53 154.16L562.33 156.56L557.53 158.96Z" fill="none" stroke="#f00808" stroke-width="1.05"/><path d="M561.9 154.16L566.7 156.56L561.9 158.96Z" fill="none" stroke="#f00808" stroke-width="1.05"/><path d="M566.27 154.16L571.07 156.56L566.27 158.96Z" fill="none" stroke="#f00808" stroke-width="1.05"/><path d="M570.63 154.17L575.43 156.57L570.63 158.97Z" fill="none" stroke="#f00808" stroke-width="1.05"/><path d="M575 154.17L579.8 156.57L575 158.97Z" fill="none" stroke="#f00808" stroke-width="1.05"/><path d="M579.37 154.17L584.17 156.57L579.37 158.97Z" fill="none" stroke="#f00808" stroke-width="1.05"/><path d="M583.73 154.18L588.53 156.58L583.73 158.98Z" fill="none" stroke="#f00808" stroke-width="1.05"/><path d="M588.1 154.18L592.9 156.58L588.1 158.98Z" fill="none" stroke="#f00808" stroke-width="1.05"/><path d="M592.47 154.18L597.27 156.58L592.47 158.98Z" fill="none" stroke="#f00808" stroke-width="1.05"/><path d="M596.83 154.19L601.63 156.59L596.83 158.99Z" fill="none" stroke="#f00808" stroke-width="1.05"/><path d="M601.2 154.19L606 156.59L601.2 158.99Z" fill="none" stroke="#f00808" stroke-width="1.05"/><path d="M605.57 154.19L610.37 156.59L605.57 158.99Z" fill="none" stroke="#f00808" stroke-width="1.05"/><path d="M609.93 154.2L614.73 156.6L609.93 159Z" fill="none" stroke="#f00808" stroke-width="1.05"/><path d="M614.3 154.2L619.1 156.6L614.3 159Z" fill="none" stroke="#f00808" stroke-width="1.05"/></g><text x="401.9" y="178.7" font-family="Liberation Sans, sans-serif" font-size="6.6" fill="#262626" stroke="#262626" stroke-width="0.22" text-anchor="middle">0</text><text x="423.34" y="178.7" font-family="Liberation Sans, sans-serif" font-size="6.6" fill="#262626" stroke="#262626" stroke-width="0.22" text-anchor="middle">50</text><text x="444.78" y="178.7" font-family="Liberation Sans, sans-serif" font-size="6.6" fill="#262626" stroke="#262626" stroke-width="0.22" text-anchor="middle">100</text><text x="466.22" y="178.7" font-family="Liberation Sans, sans-serif" font-size="6.6" fill="#262626" stroke="#262626" stroke-width="0.22" text-anchor="middle">150</text><text x="487.66" y="178.7" font-family="Liberation Sans, sans-serif" font-size="6.6" fill="#262626" stroke="#262626" stroke-width="0.22" text-anchor="middle">200</text><text x="509.1" y="178.7" font-family="Liberation Sans, sans-serif" font-size="6.6" fill="#262626" stroke="#262626" stroke-width="0.22" text-anchor="middle">250</text><text x="530.54" y="178.7" font-family="Liberation Sans, sans-serif" font-size="6.6" fill="#262626" stroke="#262626" stroke-width="0.22" text-anchor="middle">300</text><text x="551.98" y="178.7" font-family="Liberation Sans, sans-serif" font-size="6.6" fill="#262626" stroke="#262626" stroke-width="0.22" text-anchor="middle">350</text><text x="573.42" y="178.7" font-family="Liberation Sans, sans-serif" font-size="6.6" fill="#262626" stroke="#262626" stroke-width="0.22" text-anchor="middle">400</text><text x="594.86" y="178.7" font-family="Liberation Sans, sans-serif" font-size="6.6" fill="#262626" stroke="#262626" stroke-width="0.22" text-anchor="middle">450</text><text x="616.3" y="178.7" font-family="Liberation Sans, sans-serif" font-size="6.6" fill="#262626" stroke="#262626" stroke-width="0.22" text-anchor="middle">500</text><text x="396.45" y="173.1" font-family="Liberation Sans, sans-serif" font-size="6.9" fill="#262626" stroke="#262626" stroke-width="0.22" text-anchor="end">10</text><text x="396.35" y="170.1" font-family="Liberation Sans, sans-serif" font-size="5.3" fill="#262626" stroke="#262626" stroke-width="0.22">2</text><text x="396.45" y="145.47" font-family="Liberation Sans, sans-serif" font-size="6.9" fill="#262626" stroke="#262626" stroke-width="0.22" text-anchor="end">10</text><text x="396.35" y="142.47" font-family="Liberation Sans, sans-serif" font-size="5.3" fill="#262626" stroke="#262626" stroke-width="0.22">3</text><text x="396.45" y="117.83" font-family="Liberation Sans, sans-serif" font-size="6.9" fill="#262626" stroke="#262626" stroke-width="0.22" text-anchor="end">10</text><text x="396.35" y="114.83" font-family="Liberation Sans, sans-serif" font-size="5.3" fill="#262626" stroke="#262626" stroke-width="0.22">4</text><text x="396.45" y="90.2" font-family="Liberation Sans, sans-serif" font-size="6.9" fill="#262626" stroke="#262626" stroke-width="0.22" text-anchor="end">10</text><text x="396.35" y="87.2" font-family="Liberation Sans, sans-serif" font-size="5.3" fill="#262626" stroke="#262626" stroke-width="0.22">5</text><text x="396.45" y="62.57" font-family="Liberation Sans, sans-serif" font-size="6.9" fill="#262626" stroke="#262626" stroke-width="0.22" text-anchor="end">10</text><text x="396.35" y="59.57" font-family="Liberation Sans, sans-serif" font-size="5.3" fill="#262626" stroke="#262626" stroke-width="0.22">6</text><text x="396.45" y="34.93" font-family="Liberation Sans, sans-serif" font-size="6.9" fill="#262626" stroke="#262626" stroke-width="0.22" text-anchor="end">10</text><text x="396.35" y="31.93" font-family="Liberation Sans, sans-serif" font-size="5.3" fill="#262626" stroke="#262626" stroke-width="0.22">7</text><text x="396.45" y="7.3" font-family="Liberation Sans, sans-serif" font-size="6.9" fill="#262626" stroke="#262626" stroke-width="0.22" text-anchor="end">10</text><text x="396.35" y="4.3" font-family="Liberation Sans, sans-serif" font-size="5.3" fill="#262626" stroke="#262626" stroke-width="0.22">8</text><rect x="567.4" y="8.7" width="43.8" height="65" fill="#fff" stroke="#a0a0a0" stroke-width="0.7"/><path d="M569.2 13.7H588.5" stroke="#f040f0" stroke-width="1.3"/><rect x="577.15" y="12" width="3.4" height="3.4" fill="none" stroke="#f000f0" stroke-width="1.05"/><text x="590.6" y="15.7" font-family="Liberation Sans, sans-serif" font-size="6.05" fill="#333" stroke="#333" stroke-width="0.1">BWO</text><path d="M569.2 21.6H588.5" stroke="#4040f4" stroke-width="1.3"/><circle cx="578.85" cy="21.6" r="1.9" fill="none" stroke="#0000f0" stroke-width="1.15"/><text x="590.6" y="23.6" font-family="Liberation Sans, sans-serif" font-size="6.05" fill="#333" stroke="#333" stroke-width="0.1">HHO</text><path d="M569.2 29.5H588.5" stroke="#111111" stroke-width="1.3"/><path d="M578.85 26.7L579.54 28.55L581.51 28.63L579.97 29.86L580.5 31.77L578.85 30.68L577.2 31.77L577.73 29.86L576.19 28.63L578.16 28.55Z" fill="#000000" stroke="#000000" stroke-width="0.4"/><text x="590.6" y="31.5" font-family="Liberation Sans, sans-serif" font-size="6.05" fill="#333" stroke="#333" stroke-width="0.1">DBO</text><path d="M569.2 37.3H588.5" stroke="#18f0f0" stroke-width="1.3"/><path d="M578.85 34.4L580.85 37.3L578.85 40.2L576.85 37.3Z" fill="none" stroke="#00ecec" stroke-width="1.05"/><text x="590.6" y="39.3" font-family="Liberation Sans, sans-serif" font-size="6.05" fill="#333" stroke="#333" stroke-width="0.1">GJO</text><path d="M569.2 45.2H588.5" stroke="#10ee10" stroke-width="1.3"/><path d="M577.35 43.7L580.35 46.7M577.35 46.7L580.35 43.7" stroke="#00e400" stroke-width="1.05"/><text x="590.6" y="47.2" font-family="Liberation Sans, sans-serif" font-size="6.05" fill="#333" stroke="#333" stroke-width="0.1">RSO</text><path d="M569.2 53.1H588.5" stroke="#1c1cd0" stroke-width="1.3"/><path d="M578.85 50.5L579.63 51.75L581.1 51.8L580.41 53.1L581.1 54.4L579.63 54.45L578.85 55.7L578.07 54.45L576.6 54.4L577.29 53.1L576.6 51.8L578.07 51.75Z" fill="#0000e0" stroke="#0000e0" stroke-width="0.4"/><text x="590.6" y="55.1" font-family="Liberation Sans, sans-serif" font-size="6.05" fill="#333" stroke="#333" stroke-width="0.1">WOA</text><path d="M569.2 61.2H588.5" stroke="#111111" stroke-width="1.3"/><path d="M576.65 61.2L581.05 61.2M578.85 59L578.85 63.4" stroke="#000000" stroke-width="1.05"/><text x="590.6" y="63.2" font-family="Liberation Sans, sans-serif" font-size="6.05" fill="#333" stroke="#333" stroke-width="0.1">SO</text><path d="M569.2 69.3H588.5" stroke="#e01818" stroke-width="1.3"/><path d="M576.45 66.9L581.25 69.3L576.45 71.7Z" fill="none" stroke="#f00808" stroke-width="1.05"/><text x="590.6" y="71.3" font-family="Liberation Sans, sans-serif" font-size="6.05" fill="#333" stroke="#333" stroke-width="0.1">W-SO</text><text x="505.1" y="190.7" font-family="Liberation Serif, serif" font-size="9.7" fill="#262626" stroke="#262626" stroke-width="0.15" text-anchor="middle">iteration times</text><text transform="translate(385.8 86.3) rotate(-90)" font-family="Liberation Serif, serif" font-size="9.7" fill="#262626" stroke="#262626" stroke-width="0.15" text-anchor="middle">error values</text><rect x="31.2" y="311.3" width="225.3" height="175" fill="none" stroke="#a8a8a8" stroke-width="0.9"/><g stroke="#a0a0a0" stroke-width="0.6"><path d="M45.3 486.3v-2.2M45.3 311.3v2.2"/><path d="M73.45 486.3v-2.2M73.45 311.3v2.2"/><path d="M101.6 486.3v-2.2M101.6 311.3v2.2"/><path d="M129.75 486.3v-2.2M129.75 311.3v2.2"/><path d="M157.9 486.3v-2.2M157.9 311.3v2.2"/><path d="M186.05 486.3v-2.2M186.05 311.3v2.2"/><path d="M214.2 486.3v-2.2M214.2 311.3v2.2"/><path d="M242.35 486.3v-2.2M242.35 311.3v2.2"/><path d="M31.2 478.5h2.2M256.5 478.5h-2.2"/><path d="M31.2 456.49h2.2M256.5 456.49h-2.2"/><path d="M31.2 434.47h2.2M256.5 434.47h-2.2"/><path d="M31.2 412.45h2.2M256.5 412.45h-2.2"/><path d="M31.2 390.44h2.2M256.5 390.44h-2.2"/><path d="M31.2 368.43h2.2M256.5 368.43h-2.2"/><path d="M31.2 346.41h2.2M256.5 346.41h-2.2"/><path d="M31.2 324.39h2.2M256.5 324.39h-2.2"/></g><text x="28" y="480.9" font-family="Liberation Sans, sans-serif" font-size="6.6" fill="#262626" stroke="#262626" stroke-width="0.22" text-anchor="end">0</text><text x="28" y="458.88" font-family="Liberation Sans, sans-serif" font-size="6.6" fill="#262626" stroke="#262626" stroke-width="0.22" text-anchor="end">0.5</text><text x="28" y="436.87" font-family="Liberation Sans, sans-serif" font-size="6.6" fill="#262626" stroke="#262626" stroke-width="0.22" text-anchor="end">1</text><text x="28" y="414.85" font-family="Liberation Sans, sans-serif" font-size="6.6" fill="#262626" stroke="#262626" stroke-width="0.22" text-anchor="end">1.5</text><text x="28" y="392.84" font-family="Liberation Sans, sans-serif" font-size="6.6" fill="#262626" stroke="#262626" stroke-width="0.22" text-anchor="end">2</text><text x="28" y="370.82" font-family="Liberation Sans, sans-serif" font-size="6.6" fill="#262626" stroke="#262626" stroke-width="0.22" text-anchor="end">2.5</text><text x="28" y="348.81" font-family="Liberation Sans, sans-serif" font-size="6.6" fill="#262626" stroke="#262626" stroke-width="0.22" text-anchor="end">3</text><text x="28" y="326.79" font-family="Liberation Sans, sans-serif" font-size="6.6" fill="#262626" stroke="#262626" stroke-width="0.22" text-anchor="end">3.5</text><path d="M38.2 478.5H52.4" stroke="#8c8c8c" stroke-width="1"/><text x="45.3" y="496.8" font-family="Liberation Serif, serif" font-size="8.9" fill="#2a2a2a" text-anchor="middle">W-SO</text><path d="M66.35 478.5H80.55" stroke="#8c8c8c" stroke-width="1"/><text x="73.45" y="496.8" font-family="Liberation Serif, serif" font-size="8.9" fill="#2a2a2a" text-anchor="middle">SO</text><path d="M94.5 478.5H108.7" stroke="#8c8c8c" stroke-width="1"/><text x="101.6" y="496.8" font-family="Liberation Serif, serif" font-size="8.9" fill="#2a2a2a" text-anchor="middle">WOA</text><path d="M122.65 474.5H136.85" stroke="#8c8c8c" stroke-width="1"/><text x="129.75" y="496.8" font-family="Liberation Serif, serif" font-size="8.9" fill="#2a2a2a" text-anchor="middle">BWO</text><path d="M150.8 477.6H165" stroke="#8c8c8c" stroke-width="1"/><path d="M154.6 477.6H161.2" stroke="#4a4a4a" stroke-width="1.2"/><text x="157.9" y="496.8" font-family="Liberation Serif, serif" font-size="8.9" fill="#2a2a2a" text-anchor="middle">GJO</text><path d="M178.95 478.5H193.15" stroke="#8c8c8c" stroke-width="1"/><text x="186.05" y="496.8" font-family="Liberation Serif, serif" font-size="8.9" fill="#2a2a2a" text-anchor="middle">DBO</text><path d="M207.1 417.6H221.3" stroke="#8c8c8c" stroke-width="1"/><text x="214.2" y="496.8" font-family="Liberation Serif, serif" font-size="8.9" fill="#2a2a2a" text-anchor="middle">RSO</text><path d="M235.25 478.5H249.45" stroke="#8c8c8c" stroke-width="1"/><text x="242.35" y="496.8" font-family="Liberation Serif, serif" font-size="8.9" fill="#2a2a2a" text-anchor="middle">HHO</text><text x="31.4" y="310.2" font-family="Liberation Sans, sans-serif" font-size="7.8" fill="#555">×</text><text x="37.4" y="309.9" font-family="Liberation Sans, sans-serif" font-size="6.6" fill="#262626" stroke="#262626" stroke-width="0.22">10</text><text x="44.8" y="307.2" font-family="Liberation Sans, sans-serif" font-size="5.0" fill="#262626" stroke="#262626" stroke-width="0.22">9</text><text transform="translate(10 403.5) rotate(-90)" font-family="Liberation Serif, serif" font-size="9.7" fill="#262626" stroke="#262626" stroke-width="0.15" text-anchor="middle">error values</text><rect x="402" y="311.5" width="214.5" height="175.9" fill="none" stroke="#a8a8a8" stroke-width="0.9"/><g stroke="#a0a0a0" stroke-width="0.6"><path d="M415.5 487.4v-2.2M415.5 311.5v2.2"/><path d="M442.33 487.4v-2.2M442.33 311.5v2.2"/><path d="M469.16 487.4v-2.2M469.16 311.5v2.2"/><path d="M495.99 487.4v-2.2M495.99 311.5v2.2"/><path d="M522.82 487.4v-2.2M522.82 311.5v2.2"/><path d="M549.65 487.4v-2.2M549.65 311.5v2.2"/><path d="M576.48 487.4v-2.2M576.48 311.5v2.2"/><path d="M603.31 487.4v-2.2M603.31 311.5v2.2"/><path d="M402 479.5h2.2M616.5 479.5h-2.2"/><path d="M402 458.65h2.2M616.5 458.65h-2.2"/><path d="M402 437.8h2.2M616.5 437.8h-2.2"/><path d="M402 416.95h2.2M616.5 416.95h-2.2"/><path d="M402 396.1h2.2M616.5 396.1h-2.2"/><path d="M402 375.25h2.2M616.5 375.25h-2.2"/><path d="M402 354.4h2.2M616.5 354.4h-2.2"/><path d="M402 333.55h2.2M616.5 333.55h-2.2"/><path d="M402 312.7h2.2M616.5 312.7h-2.2"/></g><text x="399" y="481.9" font-family="Liberation Sans, sans-serif" font-size="6.6" fill="#262626" stroke="#262626" stroke-width="0.22" text-anchor="end">0</text><text x="399" y="461.05" font-family="Liberation Sans, sans-serif" font-size="6.6" fill="#262626" stroke="#262626" stroke-width="0.22" text-anchor="end">1</text><text x="399" y="440.2" font-family="Liberation Sans, sans-serif" font-size="6.6" fill="#262626" stroke="#262626" stroke-width="0.22" text-anchor="end">2</text><text x="399" y="419.35" font-family="Liberation Sans, sans-serif" font-size="6.6" fill="#262626" stroke="#262626" stroke-width="0.22" text-anchor="end">3</text><text x="399" y="398.5" font-family="Liberation Sans, sans-serif" font-size="6.6" fill="#262626" stroke="#262626" stroke-width="0.22" text-anchor="end">4</text><text x="399" y="377.65" font-family="Liberation Sans, sans-serif" font-size="6.6" fill="#262626" stroke="#262626" stroke-width="0.22" text-anchor="end">5</text><text x="399" y="356.8" font-family="Liberation Sans, sans-serif" font-size="6.6" fill="#262626" stroke="#262626" stroke-width="0.22" text-anchor="end">6</text><text x="399" y="335.95" font-family="Liberation Sans, sans-serif" font-size="6.6" fill="#262626" stroke="#262626" stroke-width="0.22" text-anchor="end">7</text><text x="399" y="315.1" font-family="Liberation Sans, sans-serif" font-size="6.6" fill="#262626" stroke="#262626" stroke-width="0.22" text-anchor="end">8</text><path d="M408.85 479.5H422.15" stroke="#8c8c8c" stroke-width="1"/><text x="415.5" y="498.2" font-family="Liberation Serif, serif" font-size="8.9" fill="#2a2a2a" text-anchor="middle">W-SO</text><path d="M435.68 479.5H448.98" stroke="#8c8c8c" stroke-width="1"/><text x="442.33" y="498.2" font-family="Liberation Serif, serif" font-size="8.9" fill="#2a2a2a" text-anchor="middle">SO</text><path d="M462.51 479.5H475.81" stroke="#8c8c8c" stroke-width="1"/><text x="469.16" y="498.2" font-family="Liberation Serif, serif" font-size="8.9" fill="#2a2a2a" text-anchor="middle">WOA</text><path d="M489.34 479.5H502.64" stroke="#8c8c8c" stroke-width="1"/><text x="495.99" y="498.2" font-family="Liberation Serif, serif" font-size="8.9" fill="#2a2a2a" text-anchor="middle">BWO</text><path d="M516.17 479.5H529.47" stroke="#8c8c8c" stroke-width="1"/><text x="522.82" y="498.2" font-family="Liberation Serif, serif" font-size="8.9" fill="#2a2a2a" text-anchor="middle">GJO</text><path d="M543 479.5H556.3" stroke="#8c8c8c" stroke-width="1"/><text x="549.65" y="498.2" font-family="Liberation Serif, serif" font-size="8.9" fill="#2a2a2a" text-anchor="middle">DBO</text><path d="M569.83 479.5H583.13" stroke="#8c8c8c" stroke-width="1"/><path d="M573.18 479.5H579.78" stroke="#4a4a4a" stroke-width="1.2"/><text x="576.48" y="498.2" font-family="Liberation Serif, serif" font-size="8.9" fill="#2a2a2a" text-anchor="middle">RSO</text><path d="M596.66 479.5H609.96" stroke="#8c8c8c" stroke-width="1"/><text x="603.31" y="498.2" font-family="Liberation Serif, serif" font-size="8.9" fill="#2a2a2a" text-anchor="middle">HHO</text><text x="402.1" y="310.2" font-family="Liberation Sans, sans-serif" font-size="7.8" fill="#555">×</text><text x="408.1" y="309.9" font-family="Liberation Sans, sans-serif" font-size="6.6" fill="#262626" stroke="#262626" stroke-width="0.22">10</text><text x="415.5" y="307.2" font-family="Liberation Sans, sans-serif" font-size="5.0" fill="#262626" stroke="#262626" stroke-width="0.22">7</text><text transform="translate(388.9 404.1) rotate(-90)" font-family="Liberation Serif, serif" font-size="9.7" fill="#262626" stroke="#262626" stroke-width="0.15" text-anchor="middle">error values</text><text x="-0.4" y="253.7" font-family="Liberation Serif, serif" font-size="17" fill="#000" stroke="#000" stroke-width="0.12">(a) Error convergence curve of the F<tspan font-size="11" dy="2.8">12</tspan><tspan dy="-2.8"> test function</tspan></text><text x="393.4" y="242.6" word-spacing="0.5" font-family="Liberation Serif, serif" font-size="17" fill="#000" stroke="#000" stroke-width="0.12">(b) Error convergence curve of the F<tspan font-size="11" dy="2.8">15</tspan><tspan dy="-2.8"> test</tspan></text><text x="511.3" y="272.3" font-family="Liberation Serif, serif" font-size="17" fill="#000" stroke="#000" stroke-width="0.12">function</text><text x="-0.2" y="561.3" word-spacing="0.35" font-family="Liberation Serif, serif" font-size="17" fill="#000" stroke="#000" stroke-width="0.12">(c) Error box plot of the F<tspan font-size="11" dy="2.8">12</tspan><tspan dy="-2.8"> test function</tspan></text><text x="364.3" y="561.3" word-spacing="0.35" font-family="Liberation Serif, serif" font-size="17" fill="#000" stroke="#000" stroke-width="0.12">(d) Error box plot of the F<tspan font-size="11" dy="2.8">15</tspan><tspan dy="-2.8"> test function</tspan></text></svg></body></html>
